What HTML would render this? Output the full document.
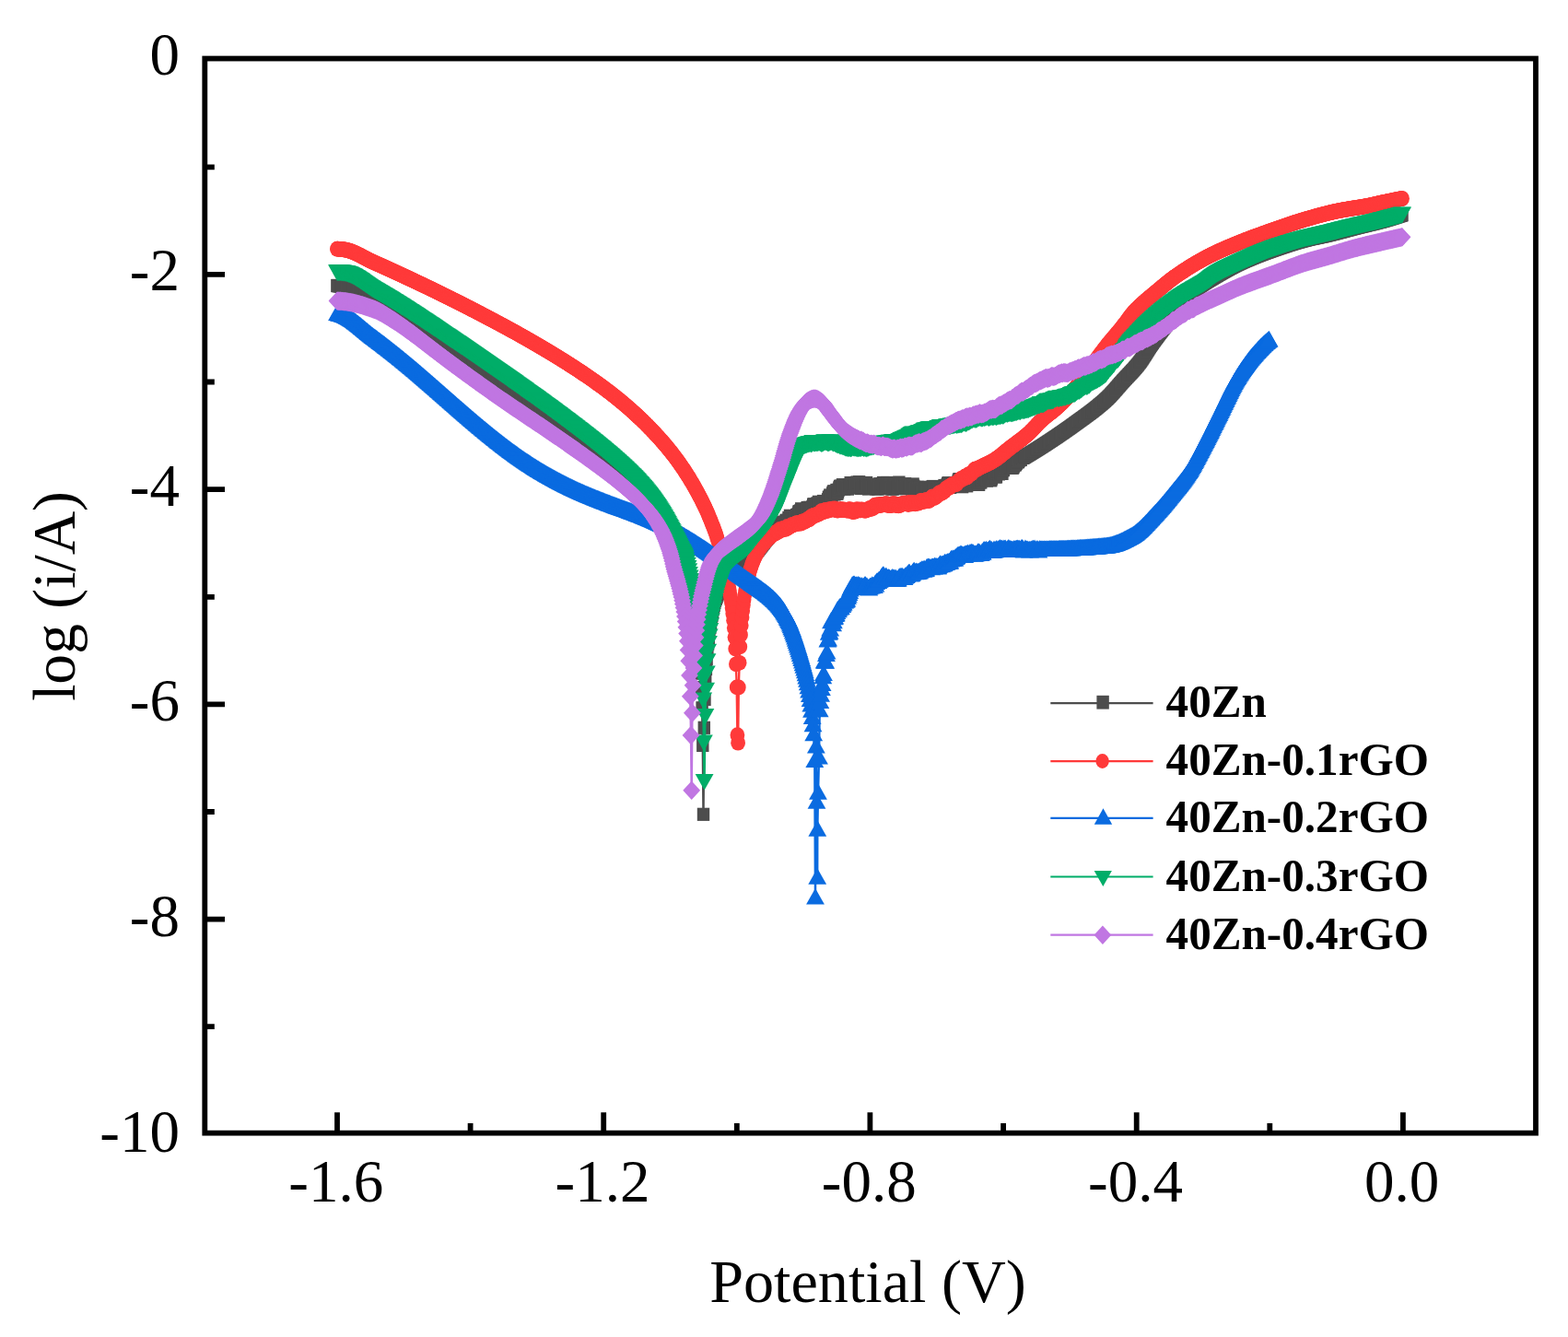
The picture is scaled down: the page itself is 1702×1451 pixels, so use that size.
<!DOCTYPE html>
<html lang="en"><head><meta charset="utf-8"><title>Polarization curves</title>
<style>html,body{margin:0;padding:0;background:#fff;}body{width:1702px;height:1451px;overflow:hidden;}svg{display:block;}text{font-family:"Liberation Serif","Times New Roman",serif;fill:#000;}</style></head><body>
<svg width="1702" height="1451" viewBox="0 0 1702 1451">
<rect width="1702" height="1451" fill="#fff"/>
<defs>
<marker id="mk" markerUnits="userSpaceOnUse" markerWidth="13.4" markerHeight="14.2" refX="6.7" refY="7.1" viewBox="0 0 13.4 14.2" orient="0" overflow="visible"><rect width="13.4" height="14.2" fill="#4d4d4d"/></marker>
<marker id="mr" markerUnits="userSpaceOnUse" markerWidth="16" markerHeight="17" refX="8" refY="8.5" viewBox="0 0 16 17" orient="0" overflow="visible"><ellipse cx="8" cy="8.5" rx="7.9" ry="8.4" fill="#ff3a3a"/></marker>
<marker id="mb" markerUnits="userSpaceOnUse" markerWidth="19.8" markerHeight="17.6" refX="9.9" refY="10.6" viewBox="0 0 19.8 17.6" orient="0" overflow="visible"><path d="M9.9 0L19.8 17.6H0Z" fill="#0a6be0"/></marker>
<marker id="mg" markerUnits="userSpaceOnUse" markerWidth="19.8" markerHeight="17.6" refX="9.9" refY="7" viewBox="0 0 19.8 17.6" orient="0" overflow="visible"><path d="M0 0H19.8L9.9 17.6Z" fill="#00ad68"/></marker>
<marker id="mp" markerUnits="userSpaceOnUse" markerWidth="18.8" markerHeight="20.4" refX="9.4" refY="10.2" viewBox="0 0 18.8 20.4" orient="0" overflow="visible"><path d="M9.4 0L18.8 10.2L9.4 20.4L0 10.2Z" fill="#c076e2"/></marker>
</defs>
<g fill="none" stroke-width="2.4" stroke-linejoin="round">
<polyline stroke="#4d4d4d" marker-start="url(#mk)" marker-mid="url(#mk)" marker-end="url(#mk)" points="366.0,310.0 366.2,310.0 366.9,310.1 367.6,310.1 368.3,310.2 369.0,310.3 369.8,310.4 370.5,310.4 371.2,310.5 371.9,310.6 372.7,310.7 373.4,310.9 374.1,311.0 374.8,311.1 375.6,311.3 376.3,311.4 377.0,311.6 377.7,311.8 378.4,312.0 379.2,312.2 379.9,312.4 380.6,312.6 381.3,312.8 382.1,313.0 382.8,313.3 383.5,313.5 384.2,313.8 384.9,314.1 385.7,314.3 386.4,314.6 387.1,314.9 387.8,315.2 388.6,315.5 389.3,315.8 390.0,316.1 390.7,316.4 391.4,316.7 392.2,317.0 392.9,317.3 393.6,317.7 394.3,318.0 395.1,318.3 395.8,318.7 396.5,319.0 397.2,319.4 397.9,319.7 398.7,320.0 399.4,320.4 400.1,320.7 400.8,321.1 401.6,321.4 402.3,321.8 403.0,322.1 403.7,322.5 404.5,322.8 405.2,323.2 405.9,323.5 406.6,323.9 407.3,324.3 408.1,324.6 408.8,325.0 409.5,325.4 410.2,325.8 411.0,326.2 411.7,326.6 412.4,327.1 413.1,327.5 413.8,327.9 414.6,328.4 415.3,328.8 416.0,329.3 416.7,329.8 417.5,330.2 418.2,330.7 418.9,331.2 419.6,331.6 420.3,332.1 421.1,332.6 421.8,333.0 422.5,333.5 423.2,334.0 424.0,334.5 424.7,334.9 425.4,335.4 426.1,335.9 426.8,336.4 427.6,336.8 428.3,337.3 429.0,337.8 429.7,338.3 430.5,338.8 431.2,339.2 431.9,339.7 432.6,340.2 433.4,340.7 434.1,341.2 434.8,341.7 435.5,342.2 436.2,342.7 437.0,343.2 437.7,343.7 438.4,344.2 439.1,344.7 439.9,345.3 440.6,345.8 441.3,346.3 442.0,346.8 442.7,347.3 443.5,347.8 444.2,348.3 444.9,348.8 445.6,349.3 446.4,349.9 447.1,350.4 447.8,350.9 448.5,351.4 449.2,351.9 450.0,352.4 450.7,353.0 451.4,353.5 452.1,354.0 452.9,354.5 453.6,355.1 454.3,355.6 455.0,356.1 455.7,356.6 456.5,357.2 457.2,357.7 457.9,358.2 458.6,358.7 459.4,359.3 460.1,359.8 460.8,360.3 461.5,360.9 462.3,361.4 463.0,361.9 463.7,362.4 464.4,363.0 465.1,363.5 465.9,364.0 466.6,364.5 467.3,365.0 468.0,365.6 468.8,366.1 469.5,366.6 470.2,367.1 470.9,367.6 471.6,368.2 472.4,368.7 473.1,369.2 473.8,369.7 474.5,370.2 475.3,370.7 476.0,371.3 476.7,371.8 477.4,372.3 478.1,372.8 478.9,373.3 479.6,373.8 480.3,374.4 481.0,374.9 481.8,375.4 482.5,375.9 483.2,376.4 483.9,376.9 484.6,377.4 485.4,378.0 486.1,378.5 486.8,379.0 487.5,379.5 488.3,380.0 489.0,380.5 489.7,381.0 490.4,381.5 491.2,382.0 491.9,382.5 492.6,383.0 493.3,383.6 494.0,384.1 494.8,384.6 495.5,385.1 496.2,385.6 496.9,386.1 497.7,386.6 498.4,387.1 499.1,387.6 499.8,388.1 500.5,388.6 501.3,389.1 502.0,389.6 502.7,390.1 503.4,390.6 504.2,391.1 504.9,391.6 505.6,392.1 506.3,392.6 507.0,393.1 507.8,393.6 508.5,394.1 509.2,394.6 509.9,395.1 510.7,395.6 511.4,396.1 512.1,396.6 512.8,397.1 513.5,397.6 514.3,398.1 515.0,398.6 515.7,399.1 516.4,399.6 517.2,400.1 517.9,400.6 518.6,401.1 519.3,401.6 520.1,402.1 520.8,402.6 521.5,403.1 522.2,403.6 522.9,404.1 523.7,404.6 524.4,405.1 525.1,405.6 525.8,406.1 526.6,406.6 527.3,407.1 528.0,407.6 528.7,408.0 529.4,408.5 530.2,409.0 530.9,409.5 531.6,410.0 532.3,410.5 533.1,411.0 533.8,411.4 534.5,411.9 535.2,412.4 535.9,412.9 536.7,413.4 537.4,413.9 538.1,414.3 538.8,414.8 539.6,415.3 540.3,415.8 541.0,416.3 541.7,416.8 542.4,417.2 543.2,417.7 543.9,418.2 544.6,418.7 545.3,419.2 546.1,419.6 546.8,420.1 547.5,420.6 548.2,421.1 549.0,421.6 549.7,422.0 550.4,422.5 551.1,423.0 551.8,423.5 552.6,424.0 553.3,424.4 554.0,424.9 554.7,425.4 555.5,425.9 556.2,426.4 556.9,426.8 557.6,427.3 558.3,427.8 559.1,428.3 559.8,428.8 560.5,429.2 561.2,429.7 562.0,430.2 562.7,430.7 563.4,431.2 564.1,431.6 564.8,432.1 565.6,432.6 566.3,433.1 567.0,433.6 567.7,434.1 568.5,434.5 569.2,435.0 569.9,435.5 570.6,436.0 571.3,436.5 572.1,436.9 572.8,437.4 573.5,437.9 574.2,438.4 575.0,438.9 575.7,439.4 576.4,439.8 577.1,440.3 577.9,440.8 578.6,441.3 579.3,441.8 580.0,442.3 580.7,442.7 581.5,443.2 582.2,443.7 582.9,444.2 583.6,444.7 584.4,445.2 585.1,445.7 585.8,446.2 586.5,446.7 587.2,447.1 588.0,447.6 588.7,448.1 589.4,448.6 590.1,449.1 590.9,449.6 591.6,450.1 592.3,450.6 593.0,451.1 593.7,451.6 594.5,452.1 595.2,452.6 595.9,453.1 596.6,453.6 597.4,454.1 598.1,454.6 598.8,455.1 599.5,455.6 600.2,456.1 601.0,456.6 601.7,457.1 602.4,457.6 603.1,458.1 603.9,458.6 604.6,459.1 605.3,459.6 606.0,460.1 606.8,460.6 607.5,461.1 608.2,461.7 608.9,462.2 609.6,462.7 610.4,463.2 611.1,463.7 611.8,464.2 612.5,464.7 613.3,465.3 614.0,465.8 614.7,466.3 615.4,466.8 616.1,467.3 616.9,467.9 617.6,468.4 618.3,468.9 619.0,469.4 619.8,470.0 620.5,470.5 621.2,471.0 621.9,471.6 622.6,472.1 623.4,472.6 624.1,473.2 624.8,473.7 625.5,474.3 626.3,474.8 627.0,475.3 627.7,475.9 628.4,476.4 629.1,477.0 629.9,477.5 630.6,478.1 631.3,478.6 632.0,479.2 632.8,479.7 633.5,480.3 634.2,480.8 634.9,481.4 635.7,481.9 636.4,482.5 637.1,483.1 637.8,483.6 638.5,484.2 639.3,484.8 640.0,485.3 640.7,485.9 641.4,486.5 642.2,487.0 642.9,487.6 643.6,488.2 644.3,488.8 645.0,489.3 645.8,489.9 646.5,490.5 647.2,491.1 647.9,491.7 648.7,492.2 649.4,492.8 650.1,493.4 650.8,494.0 651.5,494.6 652.3,495.2 653.0,495.8 653.7,496.4 654.4,497.0 655.2,497.6 655.9,498.2 656.6,498.8 657.3,499.4 658.0,500.0 658.8,500.6 659.5,501.2 660.2,501.8 660.9,502.4 661.7,503.0 662.4,503.7 663.1,504.3 663.8,504.9 664.6,505.5 665.3,506.2 666.0,506.8 666.7,507.4 667.4,508.1 668.2,508.7 668.9,509.4 669.6,510.0 670.3,510.6 671.1,511.3 671.8,512.0 672.5,512.6 673.2,513.3 673.9,513.9 674.7,514.6 675.4,515.3 676.1,515.9 676.8,516.6 677.6,517.3 678.3,518.0 679.0,518.7 679.7,519.3 680.4,520.0 681.2,520.7 681.9,521.4 682.6,522.1 683.3,522.8 684.1,523.5 684.8,524.3 685.5,525.0 686.2,525.7 686.9,526.4 687.7,527.2 688.4,527.9 689.1,528.6 689.8,529.4 690.6,530.1 691.3,530.9 692.0,531.6 692.7,532.4 693.5,533.1 694.2,533.9 694.9,534.7 695.6,535.5 696.3,536.3 697.1,537.1 697.8,537.9 698.5,538.7 699.2,539.5 700.0,540.3 700.7,541.2 701.4,542.0 702.1,542.9 702.8,543.7 703.6,544.6 704.3,545.4 705.0,546.3 705.7,547.2 706.5,548.1 707.2,549.0 707.9,550.0 708.6,550.9 709.3,551.8 710.1,552.8 710.8,553.8 711.5,554.7 712.2,555.7 713.0,556.7 713.7,557.8 714.4,558.8 715.1,559.8 715.8,560.9 716.6,562.0 717.3,563.1 718.0,564.2 718.7,565.3 719.5,566.5 720.2,567.7 720.9,568.9 721.6,570.1 722.4,571.3 723.1,572.6 723.8,573.9 724.5,575.2 725.2,576.6 726.0,578.0 726.7,579.4 727.4,580.8 728.1,582.3 728.9,583.8 729.6,585.4 730.3,587.0 731.0,588.7 731.7,590.4 732.5,592.1 733.2,593.9 733.9,595.7 734.6,597.6 735.4,599.6 736.1,601.8 736.8,604.0 737.5,606.2 738.2,608.5 739.0,610.8 739.7,613.1 740.4,615.5 741.1,617.9 741.9,620.4 742.6,622.9 743.3,625.4 744.0,628.0 744.7,630.6 745.5,633.2 746.2,635.9 746.9,638.6 747.6,641.4 748.4,644.1 749.1,646.9 749.8,649.7 750.5,652.6 751.3,655.6 752.0,658.7 752.7,661.9 753.4,665.5 754.1,669.3 754.9,673.4 755.6,677.9 756.3,682.8 757.0,688.2 757.8,694.3 758.5,701.3 759.2,709.3 759.9,718.9 760.6,730.7 761.4,746.0 762.1,768.3 762.8,808.9 763.5,883.8 764.3,789.8 765.0,758.9 765.7,739.8 766.4,726.0 767.1,715.1 767.9,706.2 768.6,698.6 769.3,692.0 770.0,686.1 770.8,680.9 771.5,676.2 772.2,671.8 772.9,667.8 773.6,664.1 774.4,660.6 775.1,657.1 775.8,654.0 776.5,651.7 777.3,649.8 778.0,647.9 778.7,646.1 779.4,644.3 780.2,642.7 780.9,641.1 781.6,639.5 782.3,638.1 783.0,636.6 783.8,635.3 784.5,634.0 785.2,632.7 785.9,631.5 786.7,630.4 787.4,629.3 788.1,628.2 788.8,627.2 789.5,626.2 790.3,625.3 791.0,624.4 791.7,623.5 792.4,622.7 793.2,621.9 793.9,621.1 794.6,620.4 795.3,619.7 796.0,619.0 796.8,618.4 797.5,617.8 798.2,617.3 798.9,616.8 799.7,616.3 800.4,615.8 801.1,615.3 801.8,614.9 802.5,614.4 803.3,613.9 804.0,613.5 804.7,613.0 805.4,612.4 806.2,611.9 806.9,611.3 807.6,610.7 808.3,610.2 809.1,609.6 809.8,609.0 810.5,608.4 811.2,607.9 811.9,607.3 812.7,606.7 813.4,606.1 814.1,605.5 814.8,604.8 815.6,604.2 816.3,603.6 817.0,602.9 817.7,602.2 818.4,601.5 819.2,600.8 819.9,600.1 820.6,599.4 821.3,598.6 822.1,597.8 822.8,596.9 823.5,596.0 824.2,595.1 824.9,594.2 825.7,593.3 826.4,592.3 827.1,591.4 827.8,590.4 828.6,589.5 829.3,588.6 830.0,587.6 830.7,586.7 831.4,585.8 832.2,585.0 832.9,584.1 833.6,583.3 834.3,582.5 835.1,580.1 835.8,577.7 836.5,577.8 837.2,576.0 838.0,574.2 838.7,574.8 839.4,577.9 840.1,578.3 840.8,577.9 841.6,574.1 842.3,573.8 843.0,571.7 843.7,569.7 844.5,568.1 845.2,567.6 845.9,571.3 846.6,572.3 847.3,572.4 848.1,572.2 848.8,568.2 849.5,566.6 850.2,567.5 851.0,568.3 851.7,569.2 852.4,569.5 853.1,564.8 853.8,565.2 854.6,565.6 855.3,564.6 856.0,562.0 856.7,562.2 857.5,559.8 858.2,563.4 858.9,564.6 859.6,563.1 860.3,560.7 861.1,562.9 861.8,561.8 862.5,562.9 863.2,563.1 864.0,560.9 864.7,559.1 865.4,559.1 866.1,557.9 866.9,555.6 867.6,555.0 868.3,557.6 869.0,554.2 869.7,552.3 870.5,554.6 871.2,553.5 871.9,554.4 872.6,554.2 873.4,553.2 874.1,556.5 874.8,553.2 875.5,552.7 876.2,551.1 877.0,552.7 877.7,551.2 878.4,550.8 879.1,552.8 879.9,551.2 880.6,551.6 881.3,553.7 882.0,549.9 882.7,547.6 883.5,547.3 884.2,550.2 884.9,550.6 885.6,548.4 886.4,547.7 887.1,546.3 887.8,547.1 888.5,544.8 889.2,547.4 890.0,549.7 890.7,551.0 891.4,550.1 892.1,550.8 892.9,545.4 893.6,544.0 894.3,547.1 895.0,547.2 895.8,544.9 896.5,546.6 897.2,545.3 897.9,545.5 898.6,542.2 899.4,539.7 900.1,539.7 900.8,537.6 901.5,537.8 902.3,541.0 903.0,538.7 903.7,535.4 904.4,533.7 905.1,533.3 905.9,536.5 906.6,535.3 907.3,534.0 908.0,531.9 908.8,535.8 909.5,534.1 910.2,531.7 910.9,529.4 911.6,527.9 912.4,527.6 913.1,530.2 913.8,528.1 914.5,526.2 915.3,527.7 916.0,526.8 916.7,530.6 917.4,527.2 918.1,527.7 918.9,529.4 919.6,527.9 920.3,530.6 921.0,528.9 921.8,526.6 922.5,526.4 923.2,524.1 923.9,525.2 924.7,524.7 925.4,528.2 926.1,529.6 926.8,528.3 927.5,524.9 928.3,524.5 929.0,524.2 929.7,523.8 930.4,523.7 931.2,527.5 931.9,525.0 932.6,523.2 933.3,527.5 934.0,527.5 934.8,530.0 935.5,527.8 936.2,529.6 936.9,529.0 937.7,529.5 938.4,529.5 939.1,528.0 939.8,524.9 940.5,524.0 941.3,527.5 942.0,529.4 942.7,530.5 943.4,527.5 944.2,527.9 944.9,529.0 945.6,528.6 946.3,529.4 947.0,528.1 947.8,528.2 948.5,528.5 949.2,526.1 949.9,528.8 950.7,530.4 951.4,526.0 952.1,529.1 952.8,530.6 953.6,529.6 954.3,525.4 955.0,528.4 955.7,525.4 956.4,528.8 957.2,528.8 957.9,525.2 958.6,524.0 959.3,526.2 960.1,527.0 960.8,528.4 961.5,530.2 962.2,526.9 962.9,524.0 963.7,528.0 964.4,524.7 965.1,528.1 965.8,525.4 966.6,528.1 967.3,529.3 968.0,530.5 968.7,529.2 969.4,530.5 970.2,527.2 970.9,528.3 971.6,526.9 972.3,529.5 973.1,530.1 973.8,528.6 974.5,528.3 975.2,525.1 975.9,523.6 976.7,526.2 977.4,526.9 978.1,529.4 978.8,529.2 979.6,526.3 980.3,526.2 981.0,528.6 981.7,528.4 982.5,525.2 983.2,528.6 983.9,530.2 984.6,526.6 985.3,527.6 986.1,527.1 986.8,529.3 987.5,527.6 988.2,526.4 989.0,527.2 989.7,530.6 990.4,527.1 991.1,525.5 991.8,527.8 992.6,530.5 993.3,529.9 994.0,529.2 994.7,531.6 995.5,532.5 996.2,528.9 996.9,532.1 997.6,529.8 998.3,529.4 999.1,532.4 999.8,531.6 1000.5,533.3 1001.2,530.4 1002.0,533.2 1002.7,530.4 1003.4,528.8 1004.1,530.1 1004.8,529.7 1005.6,530.8 1006.3,533.4 1007.0,533.5 1007.7,529.4 1008.5,529.1 1009.2,530.3 1009.9,530.5 1010.6,532.0 1011.4,531.3 1012.1,528.4 1012.8,528.0 1013.5,531.3 1014.2,530.0 1015.0,531.7 1015.7,533.8 1016.4,532.7 1017.1,532.4 1017.9,531.7 1018.6,529.6 1019.3,532.1 1020.0,530.6 1020.7,532.4 1021.5,529.7 1022.2,531.6 1022.9,532.0 1023.6,531.1 1024.4,529.6 1025.1,527.0 1025.8,529.4 1026.5,528.1 1027.2,529.2 1028.0,526.5 1028.7,524.8 1029.4,524.2 1030.1,527.8 1030.9,525.8 1031.6,528.9 1032.3,527.3 1033.0,527.6 1033.7,526.3 1034.5,527.1 1035.2,524.3 1035.9,524.6 1036.6,527.8 1037.4,524.8 1038.1,526.0 1038.8,524.6 1039.5,523.6 1040.3,521.4 1041.0,520.1 1041.7,524.9 1042.4,526.5 1043.1,527.1 1043.9,527.3 1044.6,528.2 1045.3,523.8 1046.0,524.1 1046.8,523.7 1047.5,523.9 1048.2,526.1 1048.9,526.1 1049.6,527.3 1050.4,522.8 1051.1,523.8 1051.8,524.3 1052.5,525.0 1053.3,524.6 1054.0,525.7 1054.7,523.0 1055.4,525.4 1056.1,523.5 1056.9,523.7 1057.6,525.5 1058.3,525.2 1059.0,522.8 1059.8,521.0 1060.5,520.7 1061.2,522.2 1061.9,525.1 1062.6,525.9 1063.4,523.3 1064.1,521.8 1064.8,523.5 1065.5,521.0 1066.3,520.4 1067.0,517.7 1067.7,517.1 1068.4,518.8 1069.2,520.5 1069.9,520.6 1070.6,519.1 1071.3,521.6 1072.0,520.8 1072.8,517.4 1073.5,515.0 1074.2,519.0 1074.9,521.0 1075.7,521.3 1076.4,519.5 1077.1,516.6 1077.8,513.7 1078.5,513.1 1079.3,512.4 1080.0,516.1 1080.7,517.5 1081.4,517.4 1082.2,513.4 1082.9,511.7 1083.6,511.0 1084.3,514.4 1085.0,511.1 1085.8,513.0 1086.5,513.1 1087.2,512.1 1087.9,513.9 1088.7,510.4 1089.4,509.9 1090.1,507.3 1090.8,505.4 1091.5,503.9 1092.3,504.5 1093.0,503.5 1093.7,502.4 1094.4,507.2 1095.2,505.2 1095.9,507.5 1096.6,507.3 1097.3,507.2 1098.1,506.5 1098.8,507.7 1099.5,507.6 1100.2,506.4 1100.9,504.7 1101.7,504.4 1102.4,504.2 1103.1,502.9 1103.8,501.7 1104.6,498.8 1105.3,501.3 1106.0,500.1 1106.7,496.9 1107.4,495.6 1108.2,499.0 1108.9,496.8 1109.6,496.3 1110.3,497.0 1111.1,496.6 1111.8,496.2 1112.5,495.7 1113.2,495.3 1113.9,494.8 1114.7,494.4 1115.4,494.0 1116.1,493.5 1116.8,493.1 1117.6,492.7 1118.3,492.2 1119.0,491.8 1119.7,491.3 1120.4,490.9 1121.2,490.4 1121.9,490.0 1122.6,489.5 1123.3,489.1 1124.1,488.6 1124.8,488.2 1125.5,487.7 1126.2,487.3 1127.0,486.8 1127.7,486.4 1128.4,485.9 1129.1,485.4 1129.8,485.0 1130.6,484.5 1131.3,484.1 1132.0,483.6 1132.7,483.1 1133.5,482.7 1134.2,482.2 1134.9,481.7 1135.6,481.3 1136.3,480.8 1137.1,480.3 1137.8,479.8 1138.5,479.4 1139.2,478.9 1140.0,478.4 1140.7,477.9 1141.4,477.5 1142.1,477.0 1142.8,476.5 1143.6,476.0 1144.3,475.5 1145.0,475.0 1145.7,474.6 1146.5,474.1 1147.2,473.6 1147.9,473.1 1148.6,472.6 1149.3,472.1 1150.1,471.6 1150.8,471.1 1151.5,470.6 1152.2,470.1 1153.0,469.6 1153.7,469.2 1154.4,468.7 1155.1,468.1 1155.9,467.6 1156.6,467.1 1157.3,466.6 1158.0,466.1 1158.7,465.6 1159.5,465.1 1160.2,464.6 1160.9,464.1 1161.6,463.6 1162.4,463.1 1163.1,462.5 1163.8,462.0 1164.5,461.5 1165.2,461.0 1166.0,460.5 1166.7,459.9 1167.4,459.4 1168.1,458.9 1168.9,458.4 1169.6,457.8 1170.3,457.3 1171.0,456.8 1171.7,456.3 1172.5,455.8 1173.2,455.2 1173.9,454.7 1174.6,454.2 1175.4,453.7 1176.1,453.2 1176.8,452.6 1177.5,452.1 1178.2,451.6 1179.0,451.0 1179.7,450.5 1180.4,450.0 1181.1,449.4 1181.9,448.9 1182.6,448.4 1183.3,447.8 1184.0,447.3 1184.8,446.7 1185.5,446.2 1186.2,445.6 1186.9,445.1 1187.6,444.5 1188.4,443.9 1189.1,443.4 1189.8,442.8 1190.5,442.2 1191.3,441.6 1192.0,441.0 1192.7,440.4 1193.4,439.8 1194.1,439.2 1194.9,438.6 1195.6,438.0 1196.3,437.4 1197.0,436.8 1197.8,436.1 1198.5,435.5 1199.2,434.8 1199.9,434.2 1200.6,433.5 1201.4,432.8 1202.1,432.2 1202.8,431.5 1203.5,430.7 1204.3,430.0 1205.0,429.3 1205.7,428.5 1206.4,427.7 1207.1,426.9 1207.9,426.1 1208.6,425.3 1209.3,424.5 1210.0,423.7 1210.8,422.9 1211.5,422.0 1212.2,421.2 1212.9,420.4 1213.7,419.5 1214.4,418.7 1215.1,417.9 1215.8,417.1 1216.5,416.2 1217.3,415.4 1218.0,414.6 1218.7,413.8 1219.4,413.0 1220.2,412.2 1220.9,411.4 1221.6,410.7 1222.3,409.9 1223.0,409.1 1223.8,408.4 1224.5,407.6 1225.2,406.8 1225.9,406.1 1226.7,405.3 1227.4,404.5 1228.1,403.8 1228.8,403.0 1229.5,402.2 1230.3,401.4 1231.0,400.6 1231.7,399.8 1232.4,398.9 1233.2,398.1 1233.9,397.2 1234.6,396.4 1235.3,395.5 1236.0,394.6 1236.8,393.6 1237.5,392.7 1238.2,391.7 1238.9,390.7 1239.7,389.6 1240.4,388.5 1241.1,387.4 1241.8,386.3 1242.6,385.2 1243.3,384.1 1244.0,382.9 1244.7,381.8 1245.4,380.6 1246.2,379.5 1246.9,378.3 1247.6,377.2 1248.3,376.1 1249.1,375.0 1249.8,373.9 1250.5,372.9 1251.2,371.9 1251.9,370.8 1252.7,369.8 1253.4,368.8 1254.1,367.8 1254.8,366.9 1255.6,365.9 1256.3,364.9 1257.0,363.9 1257.7,363.0 1258.4,362.0 1259.2,361.0 1259.9,360.1 1260.6,359.1 1261.3,358.2 1262.1,357.2 1262.8,356.3 1263.5,355.3 1264.2,354.4 1264.9,353.4 1265.7,352.5 1266.4,351.5 1267.1,350.6 1267.8,349.7 1268.6,348.8 1269.3,347.8 1270.0,346.9 1270.7,345.9 1271.5,344.9 1272.2,343.9 1272.9,342.8 1273.6,341.7 1274.3,340.6 1275.1,339.4 1275.8,338.2 1276.5,337.0 1277.2,335.8 1278.0,334.6 1278.7,333.4 1279.4,332.3 1280.1,331.1 1280.8,330.0 1281.6,328.9 1282.3,327.9 1283.0,326.9 1283.7,326.0 1284.5,325.1 1285.2,324.3 1285.9,323.5 1286.6,322.8 1287.3,322.1 1288.1,321.4 1288.8,320.7 1289.5,320.1 1290.2,319.5 1291.0,318.9 1291.7,318.3 1292.4,317.7 1293.1,317.1 1293.8,316.5 1294.6,316.0 1295.3,315.5 1296.0,314.9 1296.7,314.4 1297.5,313.9 1298.2,313.3 1298.9,312.8 1299.6,312.3 1300.4,311.8 1301.1,311.2 1301.8,310.7 1302.5,310.2 1303.2,309.8 1304.0,309.3 1304.7,308.8 1305.4,308.3 1306.1,307.8 1306.9,307.4 1307.6,306.9 1308.3,306.5 1309.0,306.0 1309.7,305.6 1310.5,305.1 1311.2,304.7 1311.9,304.2 1312.6,303.8 1313.4,303.4 1314.1,302.9 1314.8,302.5 1315.5,302.1 1316.2,301.7 1317.0,301.2 1317.7,300.8 1318.4,300.4 1319.1,299.9 1319.9,299.5 1320.6,299.1 1321.3,298.7 1322.0,298.2 1322.7,297.8 1323.5,297.4 1324.2,297.0 1324.9,296.6 1325.6,296.1 1326.4,295.7 1327.1,295.3 1327.8,294.9 1328.5,294.5 1329.3,294.1 1330.0,293.7 1330.7,293.3 1331.4,292.9 1332.1,292.5 1332.9,292.1 1333.6,291.7 1334.3,291.3 1335.0,290.9 1335.8,290.5 1336.5,290.2 1337.2,289.8 1337.9,289.4 1338.6,289.0 1339.4,288.7 1340.1,288.3 1340.8,287.9 1341.5,287.6 1342.3,287.2 1343.0,286.9 1343.7,286.5 1344.4,286.2 1345.1,285.8 1345.9,285.5 1346.6,285.2 1347.3,284.9 1348.0,284.5 1348.8,284.2 1349.5,283.9 1350.2,283.6 1350.9,283.2 1351.6,282.9 1352.4,282.6 1353.1,282.3 1353.8,282.0 1354.5,281.7 1355.3,281.4 1356.0,281.1 1356.7,280.8 1357.4,280.5 1358.2,280.2 1358.9,279.9 1359.6,279.6 1360.3,279.3 1361.0,279.0 1361.8,278.7 1362.5,278.4 1363.2,278.1 1363.9,277.9 1364.7,277.6 1365.4,277.3 1366.1,277.0 1366.8,276.7 1367.5,276.5 1368.3,276.2 1369.0,275.9 1369.7,275.6 1370.4,275.4 1371.2,275.1 1371.9,274.8 1372.6,274.6 1373.3,274.3 1374.0,274.0 1374.8,273.8 1375.5,273.5 1376.2,273.3 1376.9,273.0 1377.7,272.7 1378.4,272.5 1379.1,272.2 1379.8,272.0 1380.5,271.7 1381.3,271.5 1382.0,271.2 1382.7,271.0 1383.4,270.7 1384.2,270.5 1384.9,270.2 1385.6,270.0 1386.3,269.7 1387.1,269.5 1387.8,269.2 1388.5,269.0 1389.2,268.7 1389.9,268.5 1390.7,268.3 1391.4,268.0 1392.1,267.8 1392.8,267.5 1393.6,267.3 1394.3,267.1 1395.0,266.8 1395.7,266.6 1396.4,266.4 1397.2,266.1 1397.9,265.9 1398.6,265.7 1399.3,265.4 1400.1,265.2 1400.8,265.0 1401.5,264.8 1402.2,264.5 1402.9,264.3 1403.7,264.1 1404.4,263.9 1405.1,263.7 1405.8,263.4 1406.6,263.2 1407.3,263.0 1408.0,262.8 1408.7,262.6 1409.4,262.4 1410.2,262.2 1410.9,262.0 1411.6,261.8 1412.3,261.6 1413.1,261.4 1413.8,261.2 1414.5,261.0 1415.2,260.8 1416.0,260.6 1416.7,260.5 1417.4,260.3 1418.1,260.1 1418.8,259.9 1419.6,259.7 1420.3,259.6 1421.0,259.4 1421.7,259.2 1422.5,259.1 1423.2,258.9 1423.9,258.8 1424.6,258.6 1425.3,258.5 1426.1,258.3 1426.8,258.2 1427.5,258.0 1428.2,257.9 1429.0,257.7 1429.7,257.6 1430.4,257.4 1431.1,257.3 1431.8,257.1 1432.6,256.9 1433.3,256.8 1434.0,256.6 1434.7,256.5 1435.5,256.3 1436.2,256.2 1436.9,256.0 1437.6,255.9 1438.3,255.7 1439.1,255.5 1439.8,255.3 1440.5,255.2 1441.2,255.0 1442.0,254.8 1442.7,254.6 1443.4,254.5 1444.1,254.3 1444.9,254.1 1445.6,253.9 1446.3,253.7 1447.0,253.6 1447.7,253.4 1448.5,253.2 1449.2,253.0 1449.9,252.8 1450.6,252.6 1451.4,252.4 1452.1,252.2 1452.8,252.0 1453.5,251.9 1454.2,251.7 1455.0,251.5 1455.7,251.3 1456.4,251.1 1457.1,250.9 1457.9,250.7 1458.6,250.5 1459.3,250.3 1460.0,250.1 1460.7,249.9 1461.5,249.7 1462.2,249.5 1462.9,249.3 1463.6,249.2 1464.4,249.0 1465.1,248.8 1465.8,248.6 1466.5,248.4 1467.2,248.2 1468.0,248.0 1468.7,247.8 1469.4,247.6 1470.1,247.5 1470.9,247.3 1471.6,247.1 1472.3,246.9 1473.0,246.7 1473.8,246.6 1474.5,246.4 1475.2,246.2 1475.9,246.0 1476.6,245.9 1477.4,245.7 1478.1,245.5 1478.8,245.3 1479.5,245.2 1480.3,245.0 1481.0,244.8 1481.7,244.6 1482.4,244.5 1483.1,244.3 1483.9,244.1 1484.6,243.9 1485.3,243.8 1486.0,243.6 1486.8,243.4 1487.5,243.2 1488.2,243.1 1488.9,242.9 1489.6,242.7 1490.4,242.5 1491.1,242.3 1491.8,242.2 1492.5,242.0 1493.3,241.8 1494.0,241.6 1494.7,241.4 1495.4,241.2 1496.1,241.0 1496.9,240.9 1497.6,240.7 1498.3,240.5 1499.0,240.3 1499.8,240.1 1500.5,239.9 1501.2,239.7 1501.9,239.5 1502.7,239.3 1503.4,239.0 1504.1,238.8 1504.8,238.6 1505.5,238.4 1506.3,238.2 1507.0,238.0 1507.7,237.8 1508.4,237.5 1509.2,237.3 1509.9,237.1 1510.6,236.9 1511.3,236.7 1512.0,236.4 1512.8,236.2 1513.5,236.0 1514.2,235.7 1514.9,235.5 1515.7,235.3 1516.4,235.0 1517.1,234.8 1517.8,234.6 1518.5,234.3 1519.3,234.1 1520.0,233.9 1520.7,233.6 1521.4,233.4 1522.0,233.2"/>
<polyline stroke="#ff3a3a" marker-start="url(#mr)" marker-mid="url(#mr)" marker-end="url(#mr)" points="366.0,270.2 366.2,270.2 366.9,270.2 367.6,270.3 368.3,270.3 369.1,270.4 369.8,270.4 370.5,270.5 371.2,270.6 372.0,270.7 372.7,270.8 373.4,270.9 374.1,271.0 374.8,271.1 375.6,271.2 376.3,271.4 377.0,271.6 377.7,271.8 378.5,272.0 379.2,272.2 379.9,272.4 380.6,272.7 381.3,272.9 382.1,273.2 382.8,273.5 383.5,273.8 384.2,274.1 385.0,274.4 385.7,274.7 386.4,275.1 387.1,275.4 387.8,275.7 388.6,276.1 389.3,276.4 390.0,276.8 390.7,277.2 391.5,277.5 392.2,277.9 392.9,278.3 393.6,278.7 394.3,279.1 395.1,279.4 395.8,279.8 396.5,280.2 397.2,280.6 398.0,281.0 398.7,281.3 399.4,281.7 400.1,282.1 400.9,282.5 401.6,282.8 402.3,283.2 403.0,283.5 403.7,283.9 404.5,284.2 405.2,284.5 405.9,284.9 406.6,285.2 407.4,285.5 408.1,285.8 408.8,286.1 409.5,286.5 410.2,286.8 411.0,287.1 411.7,287.4 412.4,287.7 413.1,288.1 413.9,288.4 414.6,288.7 415.3,289.0 416.0,289.4 416.7,289.7 417.5,290.0 418.2,290.3 418.9,290.7 419.6,291.0 420.4,291.3 421.1,291.7 421.8,292.0 422.5,292.3 423.2,292.6 424.0,293.0 424.7,293.3 425.4,293.6 426.1,294.0 426.9,294.3 427.6,294.6 428.3,295.0 429.0,295.3 429.8,295.6 430.5,296.0 431.2,296.3 431.9,296.6 432.6,297.0 433.4,297.3 434.1,297.6 434.8,298.0 435.5,298.3 436.3,298.6 437.0,299.0 437.7,299.3 438.4,299.6 439.1,300.0 439.9,300.3 440.6,300.7 441.3,301.0 442.0,301.3 442.8,301.7 443.5,302.0 444.2,302.4 444.9,302.7 445.6,303.0 446.4,303.4 447.1,303.7 447.8,304.1 448.5,304.4 449.3,304.7 450.0,305.1 450.7,305.4 451.4,305.8 452.1,306.1 452.9,306.4 453.6,306.8 454.3,307.1 455.0,307.5 455.8,307.8 456.5,308.1 457.2,308.5 457.9,308.8 458.7,309.2 459.4,309.5 460.1,309.9 460.8,310.2 461.5,310.6 462.3,310.9 463.0,311.3 463.7,311.6 464.4,311.9 465.2,312.3 465.9,312.6 466.6,313.0 467.3,313.3 468.0,313.7 468.8,314.0 469.5,314.4 470.2,314.7 470.9,315.1 471.7,315.4 472.4,315.8 473.1,316.1 473.8,316.5 474.5,316.9 475.3,317.2 476.0,317.6 476.7,317.9 477.4,318.3 478.2,318.6 478.9,319.0 479.6,319.3 480.3,319.7 481.0,320.1 481.8,320.4 482.5,320.8 483.2,321.1 483.9,321.5 484.7,321.8 485.4,322.2 486.1,322.6 486.8,322.9 487.6,323.3 488.3,323.6 489.0,324.0 489.7,324.3 490.4,324.7 491.2,325.1 491.9,325.4 492.6,325.8 493.3,326.1 494.1,326.5 494.8,326.9 495.5,327.2 496.2,327.6 496.9,327.9 497.7,328.3 498.4,328.7 499.1,329.0 499.8,329.4 500.6,329.7 501.3,330.1 502.0,330.5 502.7,330.8 503.4,331.2 504.2,331.6 504.9,331.9 505.6,332.3 506.3,332.7 507.1,333.0 507.8,333.4 508.5,333.8 509.2,334.2 509.9,334.5 510.7,334.9 511.4,335.3 512.1,335.6 512.8,336.0 513.6,336.4 514.3,336.8 515.0,337.1 515.7,337.5 516.5,337.9 517.2,338.3 517.9,338.7 518.6,339.0 519.3,339.4 520.1,339.8 520.8,340.2 521.5,340.5 522.2,340.9 523.0,341.3 523.7,341.7 524.4,342.1 525.1,342.4 525.8,342.8 526.6,343.2 527.3,343.6 528.0,344.0 528.7,344.3 529.5,344.7 530.2,345.1 530.9,345.5 531.6,345.9 532.3,346.2 533.1,346.6 533.8,347.0 534.5,347.4 535.2,347.8 536.0,348.1 536.7,348.5 537.4,348.9 538.1,349.3 538.8,349.7 539.6,350.1 540.3,350.4 541.0,350.8 541.7,351.2 542.5,351.6 543.2,352.0 543.9,352.4 544.6,352.8 545.4,353.2 546.1,353.5 546.8,353.9 547.5,354.3 548.2,354.7 549.0,355.1 549.7,355.5 550.4,355.9 551.1,356.3 551.9,356.7 552.6,357.1 553.3,357.5 554.0,357.9 554.7,358.3 555.5,358.7 556.2,359.0 556.9,359.4 557.6,359.8 558.4,360.2 559.1,360.6 559.8,361.0 560.5,361.4 561.2,361.8 562.0,362.2 562.7,362.6 563.4,363.1 564.1,363.5 564.9,363.9 565.6,364.3 566.3,364.7 567.0,365.1 567.7,365.5 568.5,365.9 569.2,366.3 569.9,366.7 570.6,367.1 571.4,367.5 572.1,367.9 572.8,368.4 573.5,368.8 574.3,369.2 575.0,369.6 575.7,370.0 576.4,370.4 577.1,370.8 577.9,371.3 578.6,371.7 579.3,372.1 580.0,372.5 580.8,372.9 581.5,373.4 582.2,373.8 582.9,374.2 583.6,374.6 584.4,375.0 585.1,375.5 585.8,375.9 586.5,376.3 587.3,376.7 588.0,377.2 588.7,377.6 589.4,378.0 590.1,378.4 590.9,378.9 591.6,379.3 592.3,379.7 593.0,380.2 593.8,380.6 594.5,381.0 595.2,381.4 595.9,381.9 596.6,382.3 597.4,382.7 598.1,383.2 598.8,383.6 599.5,384.1 600.3,384.5 601.0,384.9 601.7,385.4 602.4,385.8 603.2,386.3 603.9,386.7 604.6,387.1 605.3,387.6 606.0,388.0 606.8,388.5 607.5,388.9 608.2,389.4 608.9,389.8 609.7,390.3 610.4,390.7 611.1,391.2 611.8,391.6 612.5,392.1 613.3,392.5 614.0,393.0 614.7,393.4 615.4,393.9 616.2,394.4 616.9,394.8 617.6,395.3 618.3,395.7 619.0,396.2 619.8,396.7 620.5,397.1 621.2,397.6 621.9,398.1 622.7,398.5 623.4,399.0 624.1,399.5 624.8,399.9 625.5,400.4 626.3,400.9 627.0,401.4 627.7,401.8 628.4,402.3 629.2,402.8 629.9,403.3 630.6,403.7 631.3,404.2 632.1,404.7 632.8,405.2 633.5,405.7 634.2,406.2 634.9,406.6 635.7,407.1 636.4,407.6 637.1,408.1 637.8,408.6 638.6,409.1 639.3,409.6 640.0,410.1 640.7,410.6 641.4,411.1 642.2,411.6 642.9,412.1 643.6,412.6 644.3,413.1 645.1,413.6 645.8,414.1 646.5,414.7 647.2,415.2 647.9,415.7 648.7,416.2 649.4,416.7 650.1,417.2 650.8,417.8 651.6,418.3 652.3,418.8 653.0,419.3 653.7,419.9 654.4,420.4 655.2,420.9 655.9,421.5 656.6,422.0 657.3,422.6 658.1,423.1 658.8,423.6 659.5,424.2 660.2,424.7 661.0,425.3 661.7,425.8 662.4,426.4 663.1,426.9 663.8,427.5 664.6,428.1 665.3,428.6 666.0,429.2 666.7,429.8 667.5,430.4 668.2,430.9 668.9,431.5 669.6,432.1 670.3,432.7 671.1,433.3 671.8,433.8 672.5,434.4 673.2,435.0 674.0,435.6 674.7,436.2 675.4,436.8 676.1,437.4 676.8,438.0 677.6,438.7 678.3,439.3 679.0,439.9 679.7,440.5 680.5,441.1 681.2,441.8 681.9,442.4 682.6,443.0 683.3,443.6 684.1,444.3 684.8,444.9 685.5,445.6 686.2,446.2 687.0,446.9 687.7,447.5 688.4,448.2 689.1,448.8 689.9,449.5 690.6,450.2 691.3,450.8 692.0,451.5 692.7,452.2 693.5,452.9 694.2,453.5 694.9,454.2 695.6,454.9 696.4,455.6 697.1,456.3 697.8,457.0 698.5,457.7 699.2,458.4 700.0,459.1 700.7,459.8 701.4,460.6 702.1,461.3 702.9,462.0 703.6,462.7 704.3,463.5 705.0,464.2 705.7,464.9 706.5,465.7 707.2,466.4 707.9,467.2 708.6,467.9 709.4,468.7 710.1,469.5 710.8,470.2 711.5,471.0 712.2,471.8 713.0,472.6 713.7,473.4 714.4,474.1 715.1,474.9 715.9,475.8 716.6,476.6 717.3,477.4 718.0,478.2 718.8,479.0 719.5,479.8 720.2,480.7 720.9,481.5 721.6,482.4 722.4,483.2 723.1,484.1 723.8,485.0 724.5,485.8 725.3,486.7 726.0,487.6 726.7,488.5 727.4,489.4 728.1,490.3 728.9,491.2 729.6,492.1 730.3,493.1 731.0,494.0 731.8,494.9 732.5,495.9 733.2,496.9 733.9,497.8 734.6,498.8 735.4,499.8 736.1,500.8 736.8,501.8 737.5,502.8 738.3,503.8 739.0,504.9 739.7,505.9 740.4,507.0 741.1,508.0 741.9,509.1 742.6,510.2 743.3,511.3 744.0,512.4 744.8,513.5 745.5,514.7 746.2,515.8 746.9,517.0 747.7,518.1 748.4,519.3 749.1,520.5 749.8,521.7 750.5,522.9 751.3,524.1 752.0,525.3 752.7,526.6 753.4,527.8 754.2,529.1 754.9,530.4 755.6,531.7 756.3,533.0 757.0,534.3 757.8,535.7 758.5,537.0 759.2,538.4 759.9,539.7 760.7,541.1 761.4,542.5 762.1,544.0 762.8,545.4 763.5,546.9 764.3,548.4 765.0,549.9 765.7,551.4 766.4,553.0 767.2,554.6 767.9,556.3 768.6,558.0 769.3,559.7 770.0,561.4 770.8,563.2 771.5,564.9 772.2,566.7 772.9,568.6 773.7,570.4 774.4,572.3 775.1,574.2 775.8,576.2 776.6,578.2 777.3,580.3 778.0,582.5 778.7,584.8 779.4,587.1 780.2,589.4 780.9,591.8 781.6,594.0 782.3,596.5 783.1,599.3 783.8,602.2 784.5,605.3 785.2,608.5 785.9,611.8 786.7,615.3 787.4,618.8 788.1,622.3 788.8,625.8 789.6,629.4 790.3,632.9 791.0,636.5 791.7,640.3 792.4,644.5 793.2,649.1 793.9,654.1 794.6,659.7 795.3,666.0 796.1,673.2 796.8,681.6 797.5,691.6 798.2,704.1 798.9,720.8 799.7,745.9 800.4,797.7 801.1,806.2 801.8,746.0 802.6,719.3 803.3,701.9 804.0,689.0 804.7,678.7 805.5,670.1 806.2,662.8 806.9,656.4 807.6,650.8 808.3,645.6 809.1,640.8 809.8,636.8 810.5,633.4 811.2,630.1 812.0,627.1 812.7,624.2 813.4,621.5 814.1,619.0 814.8,616.6 815.6,614.4 816.3,612.3 817.0,610.4 817.7,608.6 818.5,606.9 819.2,605.3 819.9,603.7 820.6,602.3 821.3,600.9 822.1,599.5 822.8,598.3 823.5,597.1 824.2,596.0 825.0,594.9 825.7,593.9 826.4,593.0 827.1,592.0 827.8,591.1 828.6,590.3 829.3,589.4 830.0,588.6 830.7,587.7 831.5,586.9 832.2,586.2 832.9,585.4 833.6,584.7 834.4,584.0 835.1,583.3 835.8,582.7 836.5,582.0 837.2,581.4 838.0,580.8 838.7,580.3 839.4,579.8 840.1,578.5 840.9,579.0 841.6,579.0 842.3,577.8 843.0,577.4 843.7,577.0 844.5,577.0 845.2,577.1 845.9,575.6 846.6,574.5 847.4,575.3 848.1,574.9 848.8,575.2 849.5,573.7 850.2,573.6 851.0,574.0 851.7,573.1 852.4,574.0 853.1,574.3 853.9,572.6 854.6,571.5 855.3,571.8 856.0,572.6 856.7,571.9 857.5,571.1 858.2,570.9 858.9,569.9 859.6,569.6 860.4,569.7 861.1,569.8 861.8,569.2 862.5,568.8 863.3,568.4 864.0,568.5 864.7,568.1 865.4,567.3 866.1,568.3 866.9,568.2 867.6,568.1 868.3,567.1 869.0,567.9 869.8,568.0 870.5,566.5 871.2,565.8 871.9,566.0 872.6,566.0 873.4,566.3 874.1,565.3 874.8,565.3 875.5,564.9 876.3,563.7 877.0,563.5 877.7,563.7 878.4,563.7 879.1,562.8 879.9,562.3 880.6,560.7 881.3,560.1 882.0,560.7 882.8,560.1 883.5,559.2 884.2,559.2 884.9,559.4 885.6,559.4 886.4,558.6 887.1,558.2 887.8,557.9 888.5,558.1 889.3,557.6 890.0,556.9 890.7,556.5 891.4,555.2 892.2,554.3 892.9,555.0 893.6,555.8 894.3,555.4 895.0,554.6 895.8,553.6 896.5,553.5 897.2,554.4 897.9,554.3 898.7,553.8 899.4,554.0 900.1,552.9 900.8,552.7 901.5,553.4 902.3,553.1 903.0,552.7 903.7,552.1 904.4,552.3 905.2,553.2 905.9,551.9 906.6,552.7 907.3,553.3 908.0,553.8 908.8,553.9 909.5,554.1 910.2,553.6 910.9,553.5 911.7,553.2 912.4,552.3 913.1,553.4 913.8,553.6 914.5,552.9 915.3,553.2 916.0,553.4 916.7,553.2 917.4,553.2 918.2,553.5 918.9,553.9 919.6,554.2 920.3,554.0 921.1,553.1 921.8,552.9 922.5,552.7 923.2,553.5 923.9,554.5 924.7,555.0 925.4,555.3 926.1,555.5 926.8,554.5 927.6,555.1 928.3,555.2 929.0,554.0 929.7,553.2 930.4,552.7 931.2,553.9 931.9,553.6 932.6,553.1 933.3,553.9 934.1,553.8 934.8,553.2 935.5,553.0 936.2,553.7 936.9,553.3 937.7,553.3 938.4,554.2 939.1,554.2 939.8,553.9 940.6,553.9 941.3,552.9 942.0,553.0 942.7,552.9 943.4,552.2 944.2,551.5 944.9,552.5 945.6,552.2 946.3,551.2 947.1,551.2 947.8,551.5 948.5,549.9 949.2,548.7 950.0,548.1 950.7,548.8 951.4,547.9 952.1,548.4 952.8,548.5 953.6,548.3 954.3,547.4 955.0,548.4 955.7,548.6 956.5,548.2 957.2,547.3 957.9,547.7 958.6,547.4 959.3,547.6 960.1,547.2 960.8,547.6 961.5,546.7 962.2,546.6 963.0,547.9 963.7,548.5 964.4,547.7 965.1,548.4 965.8,547.6 966.6,548.5 967.3,548.6 968.0,548.0 968.7,547.3 969.5,546.4 970.2,547.6 970.9,546.6 971.6,547.6 972.3,548.5 973.1,548.2 973.8,547.3 974.5,548.1 975.2,548.8 976.0,548.7 976.7,548.2 977.4,547.6 978.1,547.2 978.9,546.6 979.6,547.2 980.3,547.0 981.0,546.4 981.7,545.8 982.5,546.6 983.2,546.2 983.9,546.4 984.6,546.1 985.4,547.0 986.1,547.6 986.8,546.1 987.5,545.5 988.2,545.4 989.0,546.6 989.7,546.9 990.4,546.1 991.1,545.3 991.9,545.8 992.6,546.3 993.3,546.8 994.0,545.8 994.7,546.3 995.5,546.1 996.2,545.6 996.9,546.2 997.6,545.0 998.4,545.2 999.1,544.0 999.8,543.3 1000.5,544.4 1001.2,543.5 1002.0,544.1 1002.7,544.0 1003.4,544.4 1004.1,543.5 1004.9,542.9 1005.6,542.3 1006.3,543.1 1007.0,542.9 1007.8,543.4 1008.5,543.5 1009.2,541.9 1009.9,541.7 1010.6,540.6 1011.4,539.6 1012.1,538.9 1012.8,540.0 1013.5,540.3 1014.3,540.4 1015.0,539.3 1015.7,539.0 1016.4,539.0 1017.1,537.9 1017.9,537.5 1018.6,536.4 1019.3,535.2 1020.0,534.7 1020.8,535.4 1021.5,535.0 1022.2,535.3 1022.9,534.3 1023.6,533.1 1024.4,533.3 1025.1,533.3 1025.8,531.4 1026.5,531.5 1027.3,530.2 1028.0,529.3 1028.7,530.1 1029.4,528.7 1030.1,528.1 1030.9,529.1 1031.6,528.3 1032.3,527.1 1033.0,526.3 1033.8,525.7 1034.5,526.3 1035.2,525.1 1035.9,525.9 1036.7,525.1 1037.4,525.6 1038.1,525.6 1038.8,524.2 1039.5,523.1 1040.3,522.7 1041.0,521.5 1041.7,521.7 1042.4,520.4 1043.2,519.4 1043.9,520.5 1044.6,519.6 1045.3,519.5 1046.0,519.0 1046.8,518.1 1047.5,516.9 1048.2,517.7 1048.9,518.1 1049.7,518.1 1050.4,516.2 1051.1,515.0 1051.8,514.9 1052.5,515.4 1053.3,514.6 1054.0,514.2 1054.7,513.7 1055.4,512.4 1056.2,512.0 1056.9,511.0 1057.6,510.2 1058.3,509.2 1059.0,508.8 1059.8,509.8 1060.5,509.1 1061.2,508.7 1061.9,508.3 1062.7,507.9 1063.4,507.5 1064.1,507.1 1064.8,506.8 1065.6,506.4 1066.3,506.1 1067.0,505.7 1067.7,505.4 1068.4,505.0 1069.2,504.7 1069.9,504.3 1070.6,504.0 1071.3,503.7 1072.1,503.3 1072.8,503.0 1073.5,502.6 1074.2,502.2 1074.9,501.9 1075.7,501.5 1076.4,501.1 1077.1,500.7 1077.8,500.3 1078.6,499.9 1079.3,499.4 1080.0,499.0 1080.7,498.5 1081.4,498.0 1082.2,497.5 1082.9,497.0 1083.6,496.5 1084.3,495.9 1085.1,495.4 1085.8,494.8 1086.5,494.2 1087.2,493.6 1087.9,493.0 1088.7,492.4 1089.4,491.8 1090.1,491.2 1090.8,490.6 1091.6,490.0 1092.3,489.4 1093.0,488.8 1093.7,488.3 1094.5,487.7 1095.2,487.1 1095.9,486.5 1096.6,486.0 1097.3,485.4 1098.1,484.9 1098.8,484.3 1099.5,483.8 1100.2,483.2 1101.0,482.7 1101.7,482.2 1102.4,481.6 1103.1,481.1 1103.8,480.5 1104.6,480.0 1105.3,479.5 1106.0,478.9 1106.7,478.4 1107.5,477.8 1108.2,477.3 1108.9,476.7 1109.6,476.1 1110.3,475.6 1111.1,475.0 1111.8,474.4 1112.5,473.8 1113.2,473.2 1114.0,472.6 1114.7,472.0 1115.4,471.4 1116.1,470.7 1116.8,470.1 1117.6,469.4 1118.3,468.7 1119.0,468.0 1119.7,467.3 1120.5,466.5 1121.2,465.8 1121.9,465.0 1122.6,464.2 1123.4,463.5 1124.1,462.7 1124.8,461.9 1125.5,461.1 1126.2,460.3 1127.0,459.6 1127.7,458.8 1128.4,458.1 1129.1,457.4 1129.9,456.7 1130.6,456.0 1131.3,455.4 1132.0,454.7 1132.7,454.1 1133.5,453.5 1134.2,452.9 1134.9,452.3 1135.6,451.7 1136.4,451.1 1137.1,450.6 1137.8,450.0 1138.5,449.4 1139.2,448.9 1140.0,448.3 1140.7,447.7 1141.4,447.2 1142.1,446.6 1142.9,446.0 1143.6,445.5 1144.3,444.9 1145.0,444.3 1145.7,443.7 1146.5,443.0 1147.2,442.4 1147.9,441.8 1148.6,441.1 1149.4,440.4 1150.1,439.8 1150.8,439.1 1151.5,438.4 1152.3,437.7 1153.0,437.0 1153.7,436.2 1154.4,435.5 1155.1,434.8 1155.9,434.1 1156.6,433.3 1157.3,432.5 1158.0,431.8 1158.8,431.0 1159.5,430.2 1160.2,429.4 1160.9,428.6 1161.6,427.8 1162.4,427.0 1163.1,426.1 1163.8,425.3 1164.5,424.4 1165.3,423.6 1166.0,422.7 1166.7,421.8 1167.4,420.9 1168.1,420.0 1168.9,419.1 1169.6,418.1 1170.3,417.2 1171.0,416.3 1171.8,415.3 1172.5,414.4 1173.2,413.4 1173.9,412.4 1174.6,411.5 1175.4,410.5 1176.1,409.5 1176.8,408.5 1177.5,407.5 1178.3,406.5 1179.0,405.5 1179.7,404.5 1180.4,403.5 1181.2,402.5 1181.9,401.5 1182.6,400.5 1183.3,399.5 1184.0,398.5 1184.8,397.5 1185.5,396.5 1186.2,395.5 1186.9,394.4 1187.7,393.4 1188.4,392.4 1189.1,391.4 1189.8,390.4 1190.5,389.4 1191.3,388.4 1192.0,387.4 1192.7,386.5 1193.4,385.5 1194.2,384.5 1194.9,383.5 1195.6,382.6 1196.3,381.6 1197.0,380.6 1197.8,379.7 1198.5,378.8 1199.2,377.8 1199.9,376.9 1200.7,376.0 1201.4,375.1 1202.1,374.2 1202.8,373.3 1203.5,372.4 1204.3,371.5 1205.0,370.6 1205.7,369.8 1206.4,368.9 1207.2,368.1 1207.9,367.2 1208.6,366.4 1209.3,365.5 1210.1,364.7 1210.8,363.8 1211.5,362.9 1212.2,362.1 1212.9,361.2 1213.7,360.4 1214.4,359.5 1215.1,358.6 1215.8,357.8 1216.6,356.9 1217.3,356.0 1218.0,355.1 1218.7,354.2 1219.4,353.3 1220.2,352.3 1220.9,351.4 1221.6,350.4 1222.3,349.4 1223.1,348.4 1223.8,347.4 1224.5,346.4 1225.2,345.4 1225.9,344.4 1226.7,343.5 1227.4,342.5 1228.1,341.6 1228.8,340.7 1229.6,339.9 1230.3,339.1 1231.0,338.3 1231.7,337.5 1232.4,336.8 1233.2,336.0 1233.9,335.3 1234.6,334.6 1235.3,333.9 1236.1,333.2 1236.8,332.5 1237.5,331.8 1238.2,331.1 1239.0,330.4 1239.7,329.8 1240.4,329.1 1241.1,328.5 1241.8,327.8 1242.6,327.2 1243.3,326.6 1244.0,326.0 1244.7,325.3 1245.5,324.7 1246.2,324.1 1246.9,323.5 1247.6,322.9 1248.3,322.3 1249.1,321.7 1249.8,321.1 1250.5,320.5 1251.2,319.9 1252.0,319.3 1252.7,318.7 1253.4,318.1 1254.1,317.5 1254.8,316.9 1255.6,316.3 1256.3,315.7 1257.0,315.1 1257.7,314.5 1258.5,313.9 1259.2,313.3 1259.9,312.7 1260.6,312.0 1261.3,311.4 1262.1,310.8 1262.8,310.2 1263.5,309.6 1264.2,309.0 1265.0,308.4 1265.7,307.8 1266.4,307.2 1267.1,306.7 1267.9,306.1 1268.6,305.5 1269.3,304.9 1270.0,304.4 1270.7,303.8 1271.5,303.2 1272.2,302.7 1272.9,302.2 1273.6,301.6 1274.4,301.1 1275.1,300.6 1275.8,300.1 1276.5,299.6 1277.2,299.1 1278.0,298.6 1278.7,298.1 1279.4,297.6 1280.1,297.1 1280.9,296.6 1281.6,296.1 1282.3,295.6 1283.0,295.2 1283.7,294.7 1284.5,294.2 1285.2,293.7 1285.9,293.3 1286.6,292.8 1287.4,292.3 1288.1,291.9 1288.8,291.4 1289.5,290.9 1290.2,290.5 1291.0,290.0 1291.7,289.6 1292.4,289.1 1293.1,288.7 1293.9,288.2 1294.6,287.8 1295.3,287.4 1296.0,286.9 1296.8,286.5 1297.5,286.1 1298.2,285.6 1298.9,285.2 1299.6,284.8 1300.4,284.4 1301.1,284.0 1301.8,283.6 1302.5,283.2 1303.3,282.8 1304.0,282.4 1304.7,282.0 1305.4,281.6 1306.1,281.2 1306.9,280.8 1307.6,280.4 1308.3,280.0 1309.0,279.6 1309.8,279.2 1310.5,278.9 1311.2,278.5 1311.9,278.1 1312.6,277.8 1313.4,277.4 1314.1,277.0 1314.8,276.7 1315.5,276.3 1316.3,276.0 1317.0,275.6 1317.7,275.3 1318.4,274.9 1319.1,274.6 1319.9,274.2 1320.6,273.9 1321.3,273.5 1322.0,273.2 1322.8,272.9 1323.5,272.5 1324.2,272.2 1324.9,271.9 1325.7,271.6 1326.4,271.2 1327.1,270.9 1327.8,270.6 1328.5,270.3 1329.3,270.0 1330.0,269.6 1330.7,269.3 1331.4,269.0 1332.2,268.7 1332.9,268.4 1333.6,268.1 1334.3,267.8 1335.0,267.5 1335.8,267.2 1336.5,266.9 1337.2,266.6 1337.9,266.3 1338.7,266.0 1339.4,265.7 1340.1,265.4 1340.8,265.1 1341.5,264.8 1342.3,264.5 1343.0,264.2 1343.7,263.9 1344.4,263.6 1345.2,263.3 1345.9,263.0 1346.6,262.7 1347.3,262.4 1348.0,262.1 1348.8,261.9 1349.5,261.6 1350.2,261.3 1350.9,261.0 1351.7,260.7 1352.4,260.4 1353.1,260.2 1353.8,259.9 1354.6,259.6 1355.3,259.3 1356.0,259.1 1356.7,258.8 1357.4,258.5 1358.2,258.2 1358.9,258.0 1359.6,257.7 1360.3,257.4 1361.1,257.2 1361.8,256.9 1362.5,256.6 1363.2,256.4 1363.9,256.1 1364.7,255.9 1365.4,255.6 1366.1,255.3 1366.8,255.1 1367.6,254.8 1368.3,254.6 1369.0,254.3 1369.7,254.0 1370.4,253.8 1371.2,253.5 1371.9,253.3 1372.6,253.0 1373.3,252.8 1374.1,252.5 1374.8,252.3 1375.5,252.0 1376.2,251.7 1376.9,251.5 1377.7,251.2 1378.4,251.0 1379.1,250.7 1379.8,250.5 1380.6,250.2 1381.3,250.0 1382.0,249.7 1382.7,249.5 1383.5,249.2 1384.2,249.0 1384.9,248.7 1385.6,248.4 1386.3,248.2 1387.1,247.9 1387.8,247.7 1388.5,247.4 1389.2,247.2 1390.0,246.9 1390.7,246.7 1391.4,246.4 1392.1,246.2 1392.8,245.9 1393.6,245.7 1394.3,245.4 1395.0,245.2 1395.7,244.9 1396.5,244.7 1397.2,244.4 1397.9,244.2 1398.6,243.9 1399.3,243.7 1400.1,243.4 1400.8,243.2 1401.5,242.9 1402.2,242.7 1403.0,242.5 1403.7,242.2 1404.4,242.0 1405.1,241.7 1405.8,241.5 1406.6,241.3 1407.3,241.0 1408.0,240.8 1408.7,240.6 1409.5,240.3 1410.2,240.1 1410.9,239.9 1411.6,239.7 1412.4,239.4 1413.1,239.2 1413.8,239.0 1414.5,238.8 1415.2,238.6 1416.0,238.4 1416.7,238.1 1417.4,237.9 1418.1,237.7 1418.9,237.5 1419.6,237.3 1420.3,237.1 1421.0,236.9 1421.7,236.7 1422.5,236.5 1423.2,236.3 1423.9,236.1 1424.6,235.8 1425.4,235.6 1426.1,235.4 1426.8,235.2 1427.5,235.0 1428.2,234.8 1429.0,234.6 1429.7,234.4 1430.4,234.2 1431.1,234.0 1431.9,233.8 1432.6,233.6 1433.3,233.5 1434.0,233.3 1434.7,233.1 1435.5,232.9 1436.2,232.7 1436.9,232.5 1437.6,232.3 1438.4,232.1 1439.1,231.9 1439.8,231.8 1440.5,231.6 1441.3,231.4 1442.0,231.2 1442.7,231.1 1443.4,230.9 1444.1,230.7 1444.9,230.5 1445.6,230.4 1446.3,230.2 1447.0,230.0 1447.8,229.9 1448.5,229.7 1449.2,229.6 1449.9,229.4 1450.6,229.2 1451.4,229.1 1452.1,228.9 1452.8,228.8 1453.5,228.6 1454.3,228.5 1455.0,228.4 1455.7,228.2 1456.4,228.1 1457.1,228.0 1457.9,227.8 1458.6,227.7 1459.3,227.6 1460.0,227.4 1460.8,227.3 1461.5,227.2 1462.2,227.1 1462.9,227.0 1463.6,226.8 1464.4,226.7 1465.1,226.6 1465.8,226.5 1466.5,226.4 1467.3,226.2 1468.0,226.1 1468.7,226.0 1469.4,225.9 1470.2,225.8 1470.9,225.7 1471.6,225.6 1472.3,225.4 1473.0,225.3 1473.8,225.2 1474.5,225.1 1475.2,225.0 1475.9,224.9 1476.7,224.8 1477.4,224.6 1478.1,224.5 1478.8,224.4 1479.5,224.3 1480.3,224.1 1481.0,224.0 1481.7,223.9 1482.4,223.8 1483.2,223.6 1483.9,223.5 1484.6,223.4 1485.3,223.2 1486.0,223.1 1486.8,222.9 1487.5,222.8 1488.2,222.7 1488.9,222.5 1489.7,222.3 1490.4,222.2 1491.1,222.0 1491.8,221.9 1492.5,221.7 1493.3,221.5 1494.0,221.4 1494.7,221.2 1495.4,221.0 1496.2,220.9 1496.9,220.7 1497.6,220.5 1498.3,220.4 1499.1,220.2 1499.8,220.0 1500.5,219.9 1501.2,219.7 1501.9,219.6 1502.7,219.4 1503.4,219.3 1504.1,219.1 1504.8,219.0 1505.6,218.8 1506.3,218.7 1507.0,218.5 1507.7,218.4 1508.4,218.2 1509.2,218.1 1509.9,217.9 1510.6,217.8 1511.3,217.6 1512.1,217.5 1512.8,217.3 1513.5,217.2 1514.2,217.0 1514.9,216.9 1515.7,216.7 1516.4,216.6 1517.1,216.5 1517.8,216.3 1518.6,216.2 1519.3,216.0 1520.0,215.9 1520.7,215.7 1521.4,215.6 1522.0,215.5"/>
<polyline stroke="#0a6be0" marker-start="url(#mb)" marker-mid="url(#mb)" marker-end="url(#mb)" points="366.0,341.0 366.6,341.1 367.3,341.3 368.0,341.5 368.8,341.7 369.5,341.9 370.2,342.1 370.9,342.3 371.7,342.5 372.4,342.8 373.1,343.0 373.8,343.3 374.5,343.6 375.3,344.0 376.0,344.3 376.7,344.7 377.4,345.0 378.2,345.4 378.9,345.8 379.6,346.3 380.3,346.7 381.0,347.2 381.8,347.6 382.5,348.1 383.2,348.6 383.9,349.1 384.7,349.7 385.4,350.2 386.1,350.7 386.8,351.3 387.6,351.8 388.3,352.4 389.0,353.0 389.7,353.6 390.4,354.1 391.2,354.7 391.9,355.3 392.6,355.9 393.3,356.5 394.1,357.1 394.8,357.7 395.5,358.3 396.2,358.9 396.9,359.5 397.7,360.1 398.4,360.7 399.1,361.3 399.8,361.9 400.6,362.5 401.3,363.1 402.0,363.7 402.7,364.3 403.4,364.8 404.2,365.4 404.9,366.0 405.6,366.5 406.3,367.1 407.1,367.6 407.8,368.1 408.5,368.7 409.2,369.2 409.9,369.8 410.7,370.3 411.4,370.8 412.1,371.4 412.8,371.9 413.6,372.5 414.3,373.0 415.0,373.6 415.7,374.1 416.5,374.7 417.2,375.2 417.9,375.8 418.6,376.4 419.3,376.9 420.1,377.5 420.8,378.0 421.5,378.6 422.2,379.2 423.0,379.7 423.7,380.3 424.4,380.8 425.1,381.4 425.8,382.0 426.6,382.5 427.3,383.1 428.0,383.7 428.7,384.3 429.5,384.8 430.2,385.4 430.9,386.0 431.6,386.6 432.3,387.1 433.1,387.7 433.8,388.3 434.5,388.9 435.2,389.5 436.0,390.1 436.7,390.6 437.4,391.2 438.1,391.8 438.8,392.4 439.6,393.0 440.3,393.6 441.0,394.2 441.7,394.8 442.5,395.4 443.2,396.0 443.9,396.6 444.6,397.2 445.4,397.8 446.1,398.4 446.8,399.0 447.5,399.6 448.2,400.2 449.0,400.8 449.7,401.4 450.4,402.0 451.1,402.6 451.9,403.2 452.6,403.8 453.3,404.5 454.0,405.1 454.7,405.7 455.5,406.3 456.2,406.9 456.9,407.6 457.6,408.2 458.4,408.8 459.1,409.4 459.8,410.0 460.5,410.7 461.2,411.3 462.0,411.9 462.7,412.5 463.4,413.2 464.1,413.8 464.9,414.4 465.6,415.0 466.3,415.7 467.0,416.3 467.7,416.9 468.5,417.5 469.2,418.2 469.9,418.8 470.6,419.4 471.4,420.1 472.1,420.7 472.8,421.3 473.5,422.0 474.3,422.6 475.0,423.2 475.7,423.9 476.4,424.5 477.1,425.1 477.9,425.8 478.6,426.4 479.3,427.0 480.0,427.7 480.8,428.3 481.5,428.9 482.2,429.6 482.9,430.2 483.6,430.8 484.4,431.5 485.1,432.1 485.8,432.7 486.5,433.4 487.3,434.0 488.0,434.6 488.7,435.3 489.4,435.9 490.1,436.5 490.9,437.2 491.6,437.8 492.3,438.4 493.0,439.1 493.8,439.7 494.5,440.3 495.2,441.0 495.9,441.6 496.6,442.3 497.4,442.9 498.1,443.5 498.8,444.2 499.5,444.8 500.3,445.4 501.0,446.0 501.7,446.7 502.4,447.3 503.2,447.9 503.9,448.6 504.6,449.2 505.3,449.8 506.0,450.4 506.8,451.1 507.5,451.7 508.2,452.3 508.9,452.9 509.7,453.5 510.4,454.2 511.1,454.8 511.8,455.4 512.5,456.0 513.3,456.7 514.0,457.3 514.7,457.9 515.4,458.5 516.2,459.1 516.9,459.7 517.6,460.4 518.3,461.0 519.0,461.6 519.8,462.2 520.5,462.8 521.2,463.4 521.9,464.0 522.7,464.6 523.4,465.2 524.1,465.8 524.8,466.4 525.5,467.0 526.3,467.6 527.0,468.2 527.7,468.8 528.4,469.4 529.2,470.0 529.9,470.6 530.6,471.2 531.3,471.8 532.1,472.4 532.8,473.0 533.5,473.6 534.2,474.1 534.9,474.7 535.7,475.3 536.4,475.9 537.1,476.5 537.8,477.1 538.6,477.6 539.3,478.2 540.0,478.8 540.7,479.4 541.4,479.9 542.2,480.5 542.9,481.1 543.6,481.6 544.3,482.2 545.1,482.8 545.8,483.3 546.5,483.9 547.2,484.4 547.9,485.0 548.7,485.6 549.4,486.1 550.1,486.7 550.8,487.2 551.6,487.8 552.3,488.3 553.0,488.8 553.7,489.4 554.4,489.9 555.2,490.5 555.9,491.0 556.6,491.5 557.3,492.1 558.1,492.6 558.8,493.1 559.5,493.7 560.2,494.2 561.0,494.7 561.7,495.2 562.4,495.8 563.1,496.3 563.8,496.8 564.6,497.3 565.3,497.8 566.0,498.3 566.7,498.8 567.5,499.3 568.2,499.8 568.9,500.3 569.6,500.8 570.3,501.3 571.1,501.8 571.8,502.3 572.5,502.7 573.2,503.2 574.0,503.7 574.7,504.2 575.4,504.7 576.1,505.1 576.8,505.6 577.6,506.1 578.3,506.6 579.0,507.0 579.7,507.5 580.5,507.9 581.2,508.4 581.9,508.9 582.6,509.3 583.3,509.8 584.1,510.2 584.8,510.7 585.5,511.1 586.2,511.5 587.0,512.0 587.7,512.4 588.4,512.9 589.1,513.3 589.9,513.7 590.6,514.1 591.3,514.6 592.0,515.0 592.7,515.4 593.5,515.8 594.2,516.3 594.9,516.7 595.6,517.1 596.4,517.5 597.1,517.9 597.8,518.3 598.5,518.7 599.2,519.1 600.0,519.5 600.7,519.9 601.4,520.3 602.1,520.7 602.9,521.1 603.6,521.5 604.3,521.9 605.0,522.3 605.7,522.7 606.5,523.1 607.2,523.4 607.9,523.8 608.6,524.2 609.4,524.6 610.1,525.0 610.8,525.3 611.5,525.7 612.2,526.1 613.0,526.4 613.7,526.8 614.4,527.2 615.1,527.5 615.9,527.9 616.6,528.3 617.3,528.6 618.0,529.0 618.8,529.3 619.5,529.7 620.2,530.0 620.9,530.4 621.6,530.7 622.4,531.1 623.1,531.4 623.8,531.8 624.5,532.1 625.3,532.5 626.0,532.8 626.7,533.1 627.4,533.5 628.1,533.8 628.9,534.1 629.6,534.4 630.3,534.8 631.0,535.1 631.8,535.4 632.5,535.7 633.2,536.0 633.9,536.3 634.6,536.7 635.4,537.0 636.1,537.3 636.8,537.6 637.5,537.9 638.3,538.2 639.0,538.5 639.7,538.8 640.4,539.1 641.1,539.4 641.9,539.7 642.6,540.0 643.3,540.3 644.0,540.6 644.8,540.9 645.5,541.2 646.2,541.5 646.9,541.8 647.7,542.1 648.4,542.4 649.1,542.7 649.8,542.9 650.5,543.2 651.3,543.5 652.0,543.8 652.7,544.1 653.4,544.4 654.2,544.7 654.9,544.9 655.6,545.2 656.3,545.5 657.0,545.8 657.8,546.1 658.5,546.3 659.2,546.6 659.9,546.9 660.7,547.2 661.4,547.4 662.1,547.7 662.8,548.0 663.5,548.3 664.3,548.5 665.0,548.8 665.7,549.1 666.4,549.4 667.2,549.6 667.9,549.9 668.6,550.2 669.3,550.4 670.0,550.7 670.8,551.0 671.5,551.2 672.2,551.5 672.9,551.7 673.7,552.0 674.4,552.3 675.1,552.5 675.8,552.8 676.6,553.0 677.3,553.3 678.0,553.6 678.7,553.8 679.4,554.1 680.2,554.3 680.9,554.6 681.6,554.9 682.3,555.1 683.1,555.4 683.8,555.7 684.5,555.9 685.2,556.2 685.9,556.5 686.7,556.8 687.4,557.0 688.1,557.3 688.8,557.6 689.6,557.8 690.3,558.1 691.0,558.4 691.7,558.7 692.4,559.0 693.2,559.2 693.9,559.5 694.6,559.8 695.3,560.1 696.1,560.3 696.8,560.6 697.5,560.9 698.2,561.2 698.9,561.5 699.7,561.8 700.4,562.1 701.1,562.4 701.8,562.7 702.6,563.0 703.3,563.3 704.0,563.6 704.7,563.9 705.5,564.2 706.2,564.5 706.9,564.8 707.6,565.1 708.3,565.4 709.1,565.7 709.8,566.1 710.5,566.4 711.2,566.7 712.0,567.0 712.7,567.4 713.4,567.7 714.1,568.0 714.8,568.4 715.6,568.7 716.3,569.0 717.0,569.4 717.7,569.7 718.5,570.1 719.2,570.4 719.9,570.8 720.6,571.1 721.3,571.5 722.1,571.8 722.8,572.2 723.5,572.5 724.2,572.9 725.0,573.3 725.7,573.6 726.4,574.0 727.1,574.4 727.8,574.8 728.6,575.1 729.3,575.5 730.0,575.9 730.7,576.3 731.5,576.7 732.2,577.0 732.9,577.4 733.6,577.8 734.4,578.2 735.1,578.6 735.8,579.0 736.5,579.4 737.2,579.8 738.0,580.2 738.7,580.7 739.4,581.1 740.1,581.5 740.9,581.9 741.6,582.3 742.3,582.7 743.0,583.1 743.7,583.6 744.5,584.0 745.2,584.4 745.9,584.8 746.6,585.3 747.4,585.7 748.1,586.1 748.8,586.6 749.5,587.0 750.2,587.5 751.0,587.9 751.7,588.3 752.4,588.8 753.1,589.2 753.9,589.7 754.6,590.2 755.3,590.6 756.0,591.1 756.8,591.5 757.5,592.0 758.2,592.5 758.9,592.9 759.6,593.4 760.4,593.9 761.1,594.3 761.8,594.8 762.5,595.3 763.3,595.8 764.0,596.2 764.7,596.7 765.4,597.2 766.1,597.7 766.9,598.2 767.6,598.7 768.3,599.2 769.0,599.7 769.8,600.2 770.5,600.7 771.2,601.2 771.9,601.7 772.6,602.2 773.4,602.7 774.1,603.3 774.8,603.8 775.5,604.3 776.3,604.8 777.0,605.3 777.7,605.9 778.4,606.4 779.1,606.9 779.9,607.4 780.6,608.0 781.3,608.5 782.0,609.0 782.8,609.6 783.5,610.1 784.2,610.6 784.9,611.1 785.6,611.6 786.4,612.2 787.1,612.7 787.8,613.2 788.5,613.7 789.3,614.3 790.0,614.8 790.7,615.3 791.4,615.8 792.2,616.4 792.9,616.9 793.6,617.4 794.3,617.9 795.0,618.5 795.8,619.0 796.5,619.5 797.2,620.0 797.9,620.6 798.7,621.1 799.4,621.6 800.1,622.1 800.8,622.7 801.5,623.2 802.3,623.7 803.0,624.2 803.7,624.7 804.4,625.2 805.2,625.8 805.9,626.3 806.6,626.8 807.3,627.3 808.0,627.8 808.8,628.3 809.5,628.8 810.2,629.3 810.9,629.8 811.7,630.3 812.4,630.8 813.1,631.3 813.8,631.8 814.5,632.3 815.3,632.8 816.0,633.4 816.7,633.9 817.4,634.4 818.2,634.9 818.9,635.4 819.6,635.9 820.3,636.4 821.1,636.9 821.8,637.4 822.5,637.9 823.2,638.4 823.9,638.9 824.7,639.4 825.4,639.9 826.1,640.4 826.8,640.9 827.6,641.5 828.3,642.0 829.0,642.5 829.7,643.0 830.4,643.6 831.2,644.2 831.9,644.7 832.6,645.3 833.3,645.8 834.1,646.4 834.8,647.0 835.5,647.6 836.2,648.2 836.9,648.8 837.7,649.4 838.4,650.1 839.1,650.7 839.8,651.4 840.6,652.1 841.3,652.8 842.0,653.5 842.7,654.2 843.4,655.0 844.2,655.8 844.9,656.6 845.6,657.4 846.3,658.3 847.1,659.2 847.8,660.1 848.5,661.0 849.2,662.0 850.0,663.1 850.7,664.2 851.4,665.4 852.1,666.6 852.8,667.8 853.6,669.1 854.3,670.5 855.0,671.9 855.7,673.4 856.5,674.9 857.2,676.6 857.9,678.4 858.6,680.2 859.3,682.2 860.1,684.1 860.8,686.2 861.5,688.2 862.2,690.3 863.0,692.5 863.7,694.7 864.4,696.9 865.1,699.2 865.8,701.5 866.6,703.8 867.3,706.2 868.0,708.6 868.7,711.1 869.5,713.5 870.2,716.1 870.9,718.6 871.6,721.2 872.3,723.8 873.1,726.5 873.8,729.3 874.5,732.2 875.2,735.4 876.0,738.7 876.7,742.3 877.4,746.2 878.1,750.4 878.9,755.0 879.6,760.0 880.3,765.6 881.0,771.8 881.7,779.0 882.5,787.3 883.2,797.3 884.3,826.0 885.0,974.6 885.9,810.5 886.5,870.8 887.2,952.8 887.3,900.8 888.0,860.8 889.0,822.5 889.7,771.3 890.4,762.1 891.1,754.7 891.9,747.9 892.6,743.0 893.3,735.3 894.0,732.0 894.7,718.6 895.5,718.6 896.2,718.7 896.9,710.9 897.6,708.5 898.4,695.6 899.1,694.4 899.8,687.7 900.5,686.7 901.2,683.5 902.0,675.2 902.7,675.1 903.4,673.8 904.1,678.3 904.9,675.2 905.6,671.2 906.3,670.6 907.0,667.9 907.8,667.2 908.5,664.9 909.2,662.7 909.9,663.3 910.6,661.4 911.4,659.7 912.1,660.4 912.8,660.1 913.5,657.8 914.3,658.0 915.0,656.5 915.7,655.6 916.4,653.3 917.1,653.6 917.9,652.6 918.6,652.4 919.3,651.6 920.0,649.0 920.8,647.2 921.5,645.0 922.2,642.9 922.9,640.6 923.6,639.0 924.4,638.3 925.1,635.8 925.8,635.9 926.5,635.2 927.3,635.0 928.0,636.3 928.7,636.2 929.4,635.8 930.1,636.0 930.9,636.8 931.6,635.6 932.3,637.5 933.0,636.0 933.8,637.2 934.5,638.3 935.2,636.7 935.9,637.9 936.7,637.5 937.4,637.9 938.1,636.6 938.8,635.9 939.5,635.9 940.3,638.0 941.0,637.1 941.7,638.1 942.4,639.1 943.2,639.6 943.9,638.2 944.6,637.3 945.3,637.1 946.0,637.6 946.8,635.9 947.5,636.5 948.2,636.9 948.9,637.1 949.7,634.6 950.4,635.4 951.1,633.0 951.8,632.0 952.5,631.8 953.3,632.1 954.0,630.4 954.7,630.7 955.4,629.6 956.2,628.1 956.9,627.0 957.6,626.0 958.3,625.1 959.0,624.9 959.8,626.3 960.5,628.1 961.2,626.9 961.9,626.0 962.7,628.1 963.4,628.2 964.1,628.0 964.8,627.5 965.6,628.3 966.3,629.4 967.0,629.1 967.7,628.9 968.4,627.7 969.2,629.4 969.9,627.9 970.6,628.3 971.3,629.4 972.1,628.1 972.8,628.9 973.5,629.9 974.2,629.5 974.9,629.6 975.7,627.7 976.4,627.4 977.1,626.3 977.8,627.5 978.6,626.5 979.3,626.3 980.0,627.5 980.7,627.7 981.4,628.1 982.2,626.7 982.9,625.9 983.6,625.9 984.3,625.1 985.1,624.0 985.8,623.5 986.5,622.4 987.2,622.3 987.9,623.8 988.7,624.6 989.4,624.0 990.1,623.2 990.8,622.2 991.6,620.8 992.3,620.4 993.0,621.5 993.7,622.2 994.5,621.2 995.2,621.7 995.9,621.9 996.6,621.6 997.3,621.3 998.1,621.3 998.8,620.1 999.5,620.3 1000.2,619.1 1001.0,618.8 1001.7,619.4 1002.4,619.4 1003.1,618.2 1003.8,619.3 1004.6,619.0 1005.3,618.5 1006.0,616.5 1006.7,616.8 1007.5,616.0 1008.2,616.6 1008.9,616.3 1009.6,617.0 1010.3,616.9 1011.1,617.2 1011.8,616.0 1012.5,616.0 1013.2,616.2 1014.0,616.5 1014.7,615.2 1015.4,615.8 1016.1,616.1 1016.8,615.7 1017.6,616.2 1018.3,616.3 1019.0,615.1 1019.7,614.3 1020.5,612.8 1021.2,613.6 1021.9,614.3 1022.6,613.4 1023.4,613.3 1024.1,613.2 1024.8,613.1 1025.5,611.4 1026.2,612.0 1027.0,611.7 1027.7,611.6 1028.4,610.8 1029.1,610.7 1029.9,611.0 1030.6,610.7 1031.3,610.6 1032.0,608.4 1032.7,607.4 1033.5,607.5 1034.2,607.9 1034.9,606.9 1035.6,607.4 1036.4,607.5 1037.1,605.7 1037.8,605.8 1038.5,605.0 1039.2,603.9 1040.0,603.4 1040.7,603.5 1041.4,603.1 1042.1,602.8 1042.9,602.0 1043.6,602.7 1044.3,602.8 1045.0,603.4 1045.8,603.7 1046.5,602.8 1047.2,604.0 1047.9,602.2 1048.6,602.2 1049.4,601.8 1050.1,601.8 1050.8,601.0 1051.5,602.4 1052.3,601.9 1053.0,600.6 1053.7,601.4 1054.4,600.4 1055.1,601.0 1055.9,600.7 1056.6,601.2 1057.3,602.4 1058.0,602.8 1058.8,601.8 1059.5,602.3 1060.2,602.0 1060.9,601.0 1061.6,599.8 1062.4,600.2 1063.1,600.3 1063.8,601.4 1064.5,602.0 1065.3,601.3 1066.0,600.1 1066.7,600.8 1067.4,598.6 1068.1,597.6 1068.9,598.1 1069.6,598.5 1070.3,597.4 1071.0,598.0 1071.8,599.0 1072.5,598.1 1073.2,597.7 1073.9,596.8 1074.6,596.4 1075.4,598.0 1076.1,597.3 1076.8,598.4 1077.5,599.0 1078.3,598.4 1079.0,597.1 1079.7,598.4 1080.4,597.8 1081.2,597.2 1081.9,596.6 1082.6,598.0 1083.3,597.6 1084.0,596.7 1084.8,596.7 1085.5,595.7 1086.2,596.5 1086.9,596.5 1087.7,596.1 1088.4,597.2 1089.1,598.0 1089.8,596.2 1090.5,596.6 1091.3,596.1 1092.0,597.6 1092.7,598.1 1093.4,596.9 1094.2,596.3 1094.9,595.6 1095.6,597.5 1096.3,596.7 1097.0,597.1 1097.8,597.0 1098.5,597.3 1099.2,597.5 1099.9,597.9 1100.7,596.5 1101.4,597.4 1102.1,596.7 1102.8,596.9 1103.5,596.4 1104.3,596.1 1105.0,596.5 1105.7,596.6 1106.4,596.3 1107.2,597.3 1107.9,597.4 1108.6,595.9 1109.3,595.7 1110.1,596.1 1110.8,597.6 1111.5,598.4 1112.2,598.0 1112.9,596.2 1113.7,597.3 1114.4,597.0 1115.1,597.2 1115.8,597.7 1116.6,597.8 1117.3,597.4 1118.0,598.4 1118.7,597.5 1119.4,597.0 1120.2,598.0 1120.9,596.7 1121.6,596.3 1122.3,597.5 1123.1,596.1 1123.8,597.4 1124.5,597.8 1125.2,597.3 1125.9,596.6 1126.7,597.5 1127.4,598.5 1128.1,596.9 1128.8,596.9 1129.6,597.1 1130.3,597.0 1131.0,597.0 1131.7,597.0 1132.5,597.0 1133.2,597.0 1133.9,597.0 1134.6,597.0 1135.3,597.0 1136.1,597.0 1136.8,597.0 1137.5,597.0 1138.2,597.0 1139.0,596.9 1139.7,596.9 1140.4,596.9 1141.1,596.9 1141.8,596.9 1142.6,596.9 1143.3,596.9 1144.0,596.9 1144.7,596.9 1145.5,596.8 1146.2,596.8 1146.9,596.8 1147.6,596.8 1148.3,596.8 1149.1,596.8 1149.8,596.7 1150.5,596.7 1151.2,596.7 1152.0,596.7 1152.7,596.6 1153.4,596.6 1154.1,596.6 1154.8,596.6 1155.6,596.5 1156.3,596.5 1157.0,596.5 1157.7,596.5 1158.5,596.4 1159.2,596.4 1159.9,596.4 1160.6,596.3 1161.3,596.3 1162.1,596.3 1162.8,596.2 1163.5,596.2 1164.2,596.2 1165.0,596.1 1165.7,596.1 1166.4,596.1 1167.1,596.0 1167.9,596.0 1168.6,596.0 1169.3,595.9 1170.0,595.9 1170.7,595.8 1171.5,595.8 1172.2,595.7 1172.9,595.7 1173.6,595.7 1174.4,595.6 1175.1,595.6 1175.8,595.5 1176.5,595.5 1177.2,595.4 1178.0,595.4 1178.7,595.3 1179.4,595.3 1180.1,595.2 1180.9,595.2 1181.6,595.1 1182.3,595.1 1183.0,595.0 1183.7,594.9 1184.5,594.9 1185.2,594.8 1185.9,594.8 1186.6,594.7 1187.4,594.7 1188.1,594.6 1188.8,594.5 1189.5,594.5 1190.2,594.4 1191.0,594.4 1191.7,594.3 1192.4,594.2 1193.1,594.2 1193.9,594.1 1194.6,594.0 1195.3,594.0 1196.0,593.9 1196.8,593.8 1197.5,593.8 1198.2,593.7 1198.9,593.6 1199.6,593.5 1200.4,593.5 1201.1,593.4 1201.8,593.3 1202.5,593.2 1203.3,593.1 1204.0,593.0 1204.7,592.8 1205.4,592.7 1206.1,592.5 1206.9,592.3 1207.6,592.1 1208.3,591.9 1209.0,591.7 1209.8,591.4 1210.5,591.2 1211.2,590.9 1211.9,590.7 1212.6,590.4 1213.4,590.1 1214.1,589.8 1214.8,589.5 1215.5,589.2 1216.3,588.8 1217.0,588.5 1217.7,588.2 1218.4,587.8 1219.2,587.5 1219.9,587.1 1220.6,586.7 1221.3,586.4 1222.0,586.0 1222.8,585.6 1223.5,585.2 1224.2,584.9 1224.9,584.5 1225.7,584.1 1226.4,583.7 1227.1,583.3 1227.8,582.9 1228.5,582.5 1229.3,582.0 1230.0,581.5 1230.7,581.0 1231.4,580.5 1232.2,580.0 1232.9,579.4 1233.6,578.8 1234.3,578.2 1235.0,577.6 1235.8,577.0 1236.5,576.3 1237.2,575.7 1237.9,575.0 1238.7,574.3 1239.4,573.6 1240.1,572.9 1240.8,572.1 1241.5,571.4 1242.3,570.6 1243.0,569.9 1243.7,569.1 1244.4,568.4 1245.2,567.6 1245.9,566.8 1246.6,566.0 1247.3,565.2 1248.0,564.4 1248.8,563.7 1249.5,562.9 1250.2,562.1 1250.9,561.3 1251.7,560.5 1252.4,559.7 1253.1,558.9 1253.8,558.2 1254.6,557.4 1255.3,556.6 1256.0,555.8 1256.7,555.0 1257.4,554.2 1258.2,553.4 1258.9,552.6 1259.6,551.8 1260.3,550.9 1261.1,550.1 1261.8,549.2 1262.5,548.4 1263.2,547.5 1263.9,546.7 1264.7,545.8 1265.4,544.9 1266.1,544.0 1266.8,543.1 1267.6,542.2 1268.3,541.4 1269.0,540.5 1269.7,539.6 1270.4,538.7 1271.2,537.8 1271.9,536.9 1272.6,536.0 1273.3,535.1 1274.1,534.2 1274.8,533.3 1275.5,532.4 1276.2,531.6 1277.0,530.7 1277.7,529.8 1278.4,528.9 1279.1,528.0 1279.8,527.1 1280.6,526.2 1281.3,525.2 1282.0,524.3 1282.7,523.4 1283.5,522.4 1284.2,521.4 1284.9,520.5 1285.6,519.5 1286.3,518.5 1287.1,517.4 1287.8,516.4 1288.5,515.3 1289.2,514.3 1290.0,513.1 1290.7,512.0 1291.4,510.9 1292.1,509.7 1292.8,508.5 1293.6,507.2 1294.3,506.0 1295.0,504.7 1295.7,503.4 1296.5,502.1 1297.2,500.8 1297.9,499.5 1298.6,498.1 1299.3,496.8 1300.1,495.4 1300.8,494.1 1301.5,492.7 1302.2,491.3 1303.0,489.9 1303.7,488.5 1304.4,487.2 1305.1,485.8 1305.8,484.4 1306.6,483.0 1307.3,481.6 1308.0,480.3 1308.7,478.9 1309.5,477.5 1310.2,476.1 1310.9,474.6 1311.6,473.2 1312.4,471.8 1313.1,470.3 1313.8,468.9 1314.5,467.4 1315.2,466.0 1316.0,464.5 1316.7,463.1 1317.4,461.6 1318.1,460.1 1318.9,458.7 1319.6,457.2 1320.3,455.8 1321.0,454.3 1321.7,452.8 1322.5,451.4 1323.2,449.9 1323.9,448.5 1324.6,447.0 1325.4,445.6 1326.1,444.1 1326.8,442.6 1327.5,441.1 1328.2,439.6 1329.0,438.1 1329.7,436.6 1330.4,435.1 1331.1,433.5 1331.9,432.0 1332.6,430.5 1333.3,429.0 1334.0,427.5 1334.8,426.0 1335.5,424.5 1336.2,423.1 1336.9,421.6 1337.6,420.2 1338.4,418.8 1339.1,417.5 1339.8,416.1 1340.5,414.8 1341.3,413.5 1342.0,412.3 1342.7,411.1 1343.4,409.9 1344.1,408.8 1344.9,407.6 1345.6,406.5 1346.3,405.4 1347.0,404.3 1347.8,403.2 1348.5,402.1 1349.2,401.0 1349.9,400.0 1350.6,399.0 1351.4,398.0 1352.1,396.9 1352.8,396.0 1353.5,395.0 1354.3,394.0 1355.0,393.1 1355.7,392.1 1356.4,391.2 1357.1,390.3 1357.9,389.4 1358.6,388.6 1359.3,387.7 1360.0,386.9 1360.8,386.0 1361.5,385.2 1362.2,384.4 1362.9,383.6 1363.7,382.8 1364.4,382.0 1365.1,381.2 1365.8,380.4 1366.5,379.7 1367.3,378.9 1368.0,378.2 1368.7,377.4 1369.4,376.7 1370.2,376.0 1370.9,375.3 1371.6,374.6 1372.3,373.9 1373.0,373.3 1373.8,372.6 1374.5,372.0 1375.2,371.4 1375.9,370.8 1376.7,370.2 1377.4,369.6 1377.5,369.5"/>
<polyline stroke="#00ad68" marker-start="url(#mg)" marker-mid="url(#mg)" marker-end="url(#mg)" points="366.0,294.3 366.5,294.3 367.3,294.3 368.0,294.4 368.7,294.4 369.4,294.4 370.2,294.5 370.9,294.6 371.6,294.7 372.3,294.7 373.0,294.8 373.8,294.9 374.5,295.0 375.2,295.2 375.9,295.3 376.7,295.5 377.4,295.8 378.1,296.0 378.8,296.3 379.5,296.5 380.3,296.8 381.0,297.2 381.7,297.5 382.4,297.9 383.2,298.2 383.9,298.6 384.6,299.0 385.3,299.4 386.0,299.9 386.8,300.3 387.5,300.8 388.2,301.2 388.9,301.7 389.7,302.2 390.4,302.7 391.1,303.1 391.8,303.6 392.5,304.1 393.3,304.7 394.0,305.2 394.7,305.7 395.4,306.2 396.2,306.7 396.9,307.2 397.6,307.7 398.3,308.2 399.1,308.7 399.8,309.2 400.5,309.7 401.2,310.2 401.9,310.7 402.7,311.2 403.4,311.6 404.1,312.1 404.8,312.5 405.6,312.9 406.3,313.4 407.0,313.8 407.7,314.2 408.4,314.6 409.2,315.0 409.9,315.5 410.6,315.9 411.3,316.3 412.1,316.7 412.8,317.2 413.5,317.6 414.2,318.0 414.9,318.4 415.7,318.9 416.4,319.3 417.1,319.7 417.8,320.2 418.6,320.6 419.3,321.0 420.0,321.5 420.7,321.9 421.4,322.3 422.2,322.8 422.9,323.2 423.6,323.6 424.3,324.1 425.1,324.5 425.8,325.0 426.5,325.4 427.2,325.9 428.0,326.3 428.7,326.8 429.4,327.2 430.1,327.7 430.8,328.1 431.6,328.6 432.3,329.0 433.0,329.5 433.7,329.9 434.5,330.4 435.2,330.8 435.9,331.3 436.6,331.8 437.3,332.2 438.1,332.7 438.8,333.2 439.5,333.6 440.2,334.1 441.0,334.5 441.7,335.0 442.4,335.5 443.1,335.9 443.8,336.4 444.6,336.9 445.3,337.3 446.0,337.8 446.7,338.3 447.5,338.7 448.2,339.2 448.9,339.7 449.6,340.2 450.3,340.6 451.1,341.1 451.8,341.6 452.5,342.1 453.2,342.5 454.0,343.0 454.7,343.5 455.4,344.0 456.1,344.4 456.9,344.9 457.6,345.4 458.3,345.9 459.0,346.4 459.7,346.8 460.5,347.3 461.2,347.8 461.9,348.3 462.6,348.8 463.4,349.2 464.1,349.7 464.8,350.2 465.5,350.7 466.2,351.2 467.0,351.6 467.7,352.1 468.4,352.6 469.1,353.1 469.9,353.6 470.6,354.1 471.3,354.6 472.0,355.0 472.7,355.5 473.5,356.0 474.2,356.5 474.9,357.0 475.6,357.5 476.4,358.0 477.1,358.5 477.8,359.0 478.5,359.4 479.2,359.9 480.0,360.4 480.7,360.9 481.4,361.4 482.1,361.9 482.9,362.4 483.6,362.9 484.3,363.4 485.0,363.8 485.8,364.3 486.5,364.8 487.2,365.3 487.9,365.8 488.6,366.3 489.4,366.8 490.1,367.3 490.8,367.7 491.5,368.2 492.3,368.7 493.0,369.2 493.7,369.7 494.4,370.2 495.1,370.7 495.9,371.1 496.6,371.6 497.3,372.1 498.0,372.6 498.8,373.1 499.5,373.6 500.2,374.1 500.9,374.6 501.6,375.0 502.4,375.5 503.1,376.0 503.8,376.5 504.5,377.0 505.3,377.5 506.0,378.0 506.7,378.5 507.4,379.0 508.1,379.5 508.9,380.0 509.6,380.5 510.3,381.0 511.0,381.5 511.8,382.0 512.5,382.4 513.2,382.9 513.9,383.4 514.7,383.9 515.4,384.4 516.1,384.9 516.8,385.4 517.5,385.9 518.3,386.4 519.0,386.9 519.7,387.4 520.4,387.9 521.2,388.4 521.9,388.9 522.6,389.4 523.3,389.9 524.0,390.4 524.8,390.9 525.5,391.4 526.2,391.9 526.9,392.4 527.7,392.9 528.4,393.4 529.1,393.9 529.8,394.4 530.5,394.9 531.3,395.5 532.0,396.0 532.7,396.5 533.4,397.0 534.2,397.5 534.9,398.0 535.6,398.5 536.3,399.0 537.0,399.5 537.8,400.0 538.5,400.5 539.2,401.0 539.9,401.5 540.7,402.0 541.4,402.5 542.1,403.0 542.8,403.5 543.6,404.0 544.3,404.5 545.0,405.0 545.7,405.5 546.4,406.0 547.2,406.5 547.9,407.0 548.6,407.5 549.3,408.0 550.1,408.5 550.8,409.0 551.5,409.6 552.2,410.1 552.9,410.6 553.7,411.1 554.4,411.6 555.1,412.1 555.8,412.6 556.6,413.1 557.3,413.6 558.0,414.1 558.7,414.6 559.4,415.2 560.2,415.7 560.9,416.2 561.6,416.7 562.3,417.2 563.1,417.7 563.8,418.2 564.5,418.7 565.2,419.3 565.9,419.8 566.7,420.3 567.4,420.8 568.1,421.3 568.8,421.8 569.6,422.3 570.3,422.8 571.0,423.4 571.7,423.9 572.5,424.4 573.2,424.9 573.9,425.4 574.6,425.9 575.3,426.4 576.1,427.0 576.8,427.5 577.5,428.0 578.2,428.5 579.0,429.0 579.7,429.5 580.4,430.1 581.1,430.6 581.8,431.1 582.6,431.6 583.3,432.1 584.0,432.7 584.7,433.2 585.5,433.7 586.2,434.2 586.9,434.8 587.6,435.3 588.3,435.8 589.1,436.3 589.8,436.9 590.5,437.4 591.2,437.9 592.0,438.4 592.7,439.0 593.4,439.5 594.1,440.0 594.8,440.6 595.6,441.1 596.3,441.6 597.0,442.1 597.7,442.7 598.5,443.2 599.2,443.7 599.9,444.3 600.6,444.8 601.4,445.3 602.1,445.9 602.8,446.4 603.5,447.0 604.2,447.5 605.0,448.0 605.7,448.6 606.4,449.1 607.1,449.6 607.9,450.2 608.6,450.7 609.3,451.3 610.0,451.8 610.7,452.3 611.5,452.9 612.2,453.4 612.9,454.0 613.6,454.5 614.4,455.1 615.1,455.6 615.8,456.1 616.5,456.7 617.2,457.2 618.0,457.8 618.7,458.3 619.4,458.9 620.1,459.4 620.9,460.0 621.6,460.5 622.3,461.1 623.0,461.6 623.7,462.2 624.5,462.7 625.2,463.3 625.9,463.8 626.6,464.4 627.4,464.9 628.1,465.5 628.8,466.1 629.5,466.6 630.3,467.2 631.0,467.7 631.7,468.3 632.4,468.9 633.1,469.4 633.9,470.0 634.6,470.5 635.3,471.1 636.0,471.7 636.8,472.2 637.5,472.8 638.2,473.4 638.9,473.9 639.6,474.5 640.4,475.1 641.1,475.7 641.8,476.2 642.5,476.8 643.3,477.4 644.0,478.0 644.7,478.5 645.4,479.1 646.1,479.7 646.9,480.3 647.6,480.9 648.3,481.5 649.0,482.1 649.8,482.7 650.5,483.3 651.2,483.9 651.9,484.4 652.6,485.0 653.4,485.6 654.1,486.2 654.8,486.8 655.5,487.4 656.3,488.0 657.0,488.7 657.7,489.3 658.4,489.9 659.2,490.5 659.9,491.1 660.6,491.7 661.3,492.3 662.0,493.0 662.8,493.6 663.5,494.2 664.2,494.8 664.9,495.5 665.7,496.1 666.4,496.7 667.1,497.4 667.8,498.0 668.5,498.6 669.3,499.3 670.0,499.9 670.7,500.6 671.4,501.2 672.2,501.9 672.9,502.5 673.6,503.2 674.3,503.8 675.0,504.5 675.8,505.2 676.5,505.8 677.2,506.5 677.9,507.2 678.7,507.8 679.4,508.5 680.1,509.2 680.8,509.9 681.5,510.6 682.3,511.3 683.0,512.0 683.7,512.7 684.4,513.4 685.2,514.2 685.9,514.9 686.6,515.6 687.3,516.3 688.1,517.1 688.8,517.8 689.5,518.6 690.2,519.3 690.9,520.1 691.7,520.8 692.4,521.6 693.1,522.4 693.8,523.2 694.6,524.0 695.3,524.8 696.0,525.6 696.7,526.4 697.4,527.2 698.2,528.1 698.9,528.9 699.6,529.8 700.3,530.6 701.1,531.5 701.8,532.4 702.5,533.3 703.2,534.2 703.9,535.1 704.7,536.0 705.4,537.0 706.1,537.9 706.8,538.9 707.6,539.8 708.3,540.8 709.0,541.8 709.7,542.8 710.4,543.8 711.2,544.8 711.9,545.9 712.6,546.9 713.3,548.0 714.1,549.1 714.8,550.2 715.5,551.3 716.2,552.4 717.0,553.5 717.7,554.7 718.4,555.8 719.1,557.0 719.8,558.2 720.6,559.4 721.3,560.6 722.0,561.9 722.7,563.1 723.5,564.4 724.2,565.7 724.9,567.0 725.6,568.4 726.3,569.7 727.1,571.0 727.8,572.4 728.5,573.8 729.2,575.1 730.0,576.5 730.7,578.0 731.4,579.4 732.1,580.8 732.8,582.3 733.6,583.7 734.3,585.2 735.0,586.6 735.7,588.1 736.5,589.6 737.2,591.1 737.9,592.6 738.6,594.0 739.3,595.5 740.1,596.9 740.8,598.3 741.5,599.5 742.2,600.8 743.0,602.3 743.7,604.1 744.4,606.3 745.1,608.9 745.9,611.8 746.6,615.0 747.3,618.3 748.0,621.9 748.7,625.4 749.5,629.0 750.2,632.5 750.9,635.9 751.6,639.1 752.4,642.1 753.1,645.2 753.8,648.4 754.5,652.0 755.2,655.9 756.0,660.0 756.7,664.5 757.4,669.5 758.1,675.1 758.9,681.3 759.6,688.3 760.3,696.6 761.0,706.4 761.7,718.6 762.5,734.7 763.2,758.4 763.9,804.6 764.6,846.9 765.4,776.1 766.1,747.7 766.8,729.6 767.5,716.3 768.2,705.7 769.0,697.0 769.7,689.6 770.4,683.1 771.1,677.4 771.9,672.2 772.6,667.5 773.3,663.2 774.0,659.3 774.8,655.6 775.5,652.2 776.2,648.9 776.9,645.9 777.6,643.2 778.4,640.8 779.1,638.3 779.8,635.9 780.5,633.6 781.3,631.4 782.0,629.2 782.7,627.2 783.4,625.2 784.1,623.3 784.9,621.5 785.6,619.8 786.3,618.3 787.0,616.8 787.8,615.5 788.5,614.2 789.2,613.1 789.9,612.0 790.6,611.0 791.4,610.1 792.1,609.2 792.8,608.3 793.5,607.5 794.3,606.8 795.0,606.0 795.7,605.3 796.4,604.6 797.1,603.9 797.9,603.2 798.6,602.5 799.3,601.9 800.0,601.4 800.8,600.8 801.5,600.3 802.2,599.7 802.9,599.2 803.7,598.7 804.4,598.2 805.1,597.7 805.8,597.2 806.5,596.6 807.3,596.1 808.0,595.5 808.7,594.9 809.4,594.3 810.2,593.6 810.9,592.9 811.6,592.2 812.3,591.4 813.0,590.6 813.8,589.8 814.5,588.9 815.2,588.1 815.9,587.2 816.7,586.3 817.4,585.3 818.1,584.4 818.8,583.5 819.5,582.6 820.3,581.6 821.0,580.7 821.7,579.8 822.4,578.9 823.2,578.0 823.9,577.1 824.6,576.3 825.3,575.4 826.0,574.6 826.8,573.8 827.5,572.9 828.2,572.1 828.9,571.2 829.7,570.4 830.4,569.5 831.1,568.6 831.8,567.7 832.6,566.8 833.3,565.9 834.0,565.0 834.7,564.1 835.4,563.2 836.2,562.2 836.9,561.1 837.6,560.0 838.3,558.7 839.1,557.4 839.8,555.9 840.5,554.3 841.2,552.7 841.9,551.0 842.7,549.3 843.4,547.4 844.1,545.6 844.8,543.7 845.6,541.8 846.3,539.9 847.0,538.0 847.7,536.1 848.4,534.2 849.2,532.3 849.9,530.5 850.6,528.8 851.3,527.0 852.1,525.2 852.8,523.4 853.5,521.6 854.2,519.8 854.9,517.9 855.7,516.1 856.4,514.3 857.1,512.4 857.8,510.6 858.6,508.9 859.3,507.1 860.0,505.4 860.7,503.7 861.5,502.1 862.2,500.5 862.9,499.0 863.6,497.5 864.3,495.9 865.1,494.3 865.8,492.7 866.5,491.1 867.2,489.5 868.0,488.1 868.7,486.7 869.4,485.5 870.1,484.5 870.8,483.7 871.6,483.1 872.3,482.8 873.0,482.4 873.7,482.1 874.5,481.8 875.2,481.6 875.9,481.3 876.6,481.0 877.3,480.8 878.1,480.6 878.8,480.4 879.5,480.2 880.2,480.7 881.0,480.9 881.7,479.7 882.4,479.1 883.1,479.7 883.8,479.9 884.6,479.9 885.3,479.4 886.0,479.6 886.7,479.6 887.5,479.7 888.2,479.1 888.9,479.1 889.6,479.1 890.4,479.5 891.1,480.2 891.8,480.5 892.5,480.1 893.2,479.7 894.0,479.3 894.7,478.7 895.4,478.3 896.1,478.7 896.9,478.7 897.6,478.8 898.3,479.6 899.0,479.6 899.7,479.6 900.5,479.1 901.2,478.6 901.9,478.7 902.6,478.5 903.4,478.8 904.1,479.8 904.8,479.9 905.5,479.4 906.2,480.2 907.0,480.6 907.7,480.9 908.4,481.4 909.1,481.6 909.9,481.9 910.6,481.6 911.3,482.5 912.0,483.1 912.7,482.4 913.5,483.0 914.2,483.4 914.9,483.5 915.6,483.7 916.4,483.8 917.1,484.6 917.8,484.6 918.5,485.1 919.3,484.7 920.0,485.3 920.7,485.6 921.4,485.2 922.1,485.1 922.9,485.6 923.6,485.6 924.3,485.3 925.0,484.7 925.8,484.5 926.5,484.9 927.2,484.5 927.9,485.2 928.6,484.8 929.4,485.4 930.1,484.9 930.8,485.6 931.5,485.6 932.3,485.4 933.0,485.2 933.7,485.3 934.4,485.3 935.1,484.9 935.9,484.5 936.6,484.7 937.3,485.4 938.0,485.4 938.8,484.7 939.5,485.3 940.2,485.5 940.9,485.8 941.6,485.0 942.4,485.2 943.1,484.3 943.8,484.5 944.5,484.1 945.3,483.6 946.0,484.2 946.7,483.4 947.4,483.4 948.2,483.7 948.9,483.0 949.6,482.4 950.3,482.9 951.0,482.4 951.8,482.5 952.5,481.5 953.2,481.2 953.9,480.8 954.7,481.1 955.4,480.4 956.1,481.2 956.8,480.3 957.5,480.7 958.3,479.9 959.0,479.7 959.7,480.3 960.4,479.8 961.2,479.4 961.9,479.9 962.6,479.7 963.3,479.0 964.0,479.9 964.8,479.3 965.5,478.7 966.2,478.7 966.9,479.0 967.7,479.4 968.4,478.6 969.1,478.5 969.8,477.9 970.5,478.1 971.3,478.6 972.0,478.8 972.7,479.0 973.4,478.9 974.2,479.0 974.9,478.7 975.6,478.0 976.3,477.2 977.1,477.2 977.8,476.7 978.5,475.9 979.2,475.8 979.9,476.2 980.7,475.2 981.4,475.2 982.1,474.7 982.8,474.5 983.6,473.7 984.3,474.2 985.0,473.4 985.7,473.3 986.4,472.8 987.2,471.8 987.9,471.8 988.6,471.2 989.3,470.5 990.1,470.0 990.8,469.7 991.5,469.4 992.2,469.9 992.9,469.9 993.7,470.4 994.4,470.6 995.1,470.7 995.8,469.6 996.6,469.1 997.3,468.5 998.0,468.5 998.7,468.4 999.4,468.6 1000.2,468.4 1000.9,467.6 1001.6,467.3 1002.3,467.1 1003.1,466.3 1003.8,465.7 1004.5,465.8 1005.2,465.3 1006.0,465.9 1006.7,465.4 1007.4,464.9 1008.1,464.6 1008.8,464.5 1009.6,464.3 1010.3,464.5 1011.0,464.6 1011.7,464.3 1012.5,464.5 1013.2,464.0 1013.9,464.6 1014.6,465.0 1015.3,464.9 1016.1,464.3 1016.8,464.0 1017.5,463.9 1018.2,463.1 1019.0,463.0 1019.7,463.1 1020.4,462.6 1021.1,462.1 1021.8,462.8 1022.6,462.5 1023.3,462.5 1024.0,463.0 1024.7,462.9 1025.5,462.3 1026.2,462.8 1026.9,462.2 1027.6,461.4 1028.3,461.7 1029.1,461.1 1029.8,460.9 1030.5,461.5 1031.2,461.6 1032.0,460.7 1032.7,460.8 1033.4,460.7 1034.1,460.7 1034.9,460.3 1035.6,460.5 1036.3,459.9 1037.0,459.8 1037.7,459.8 1038.5,460.5 1039.2,459.7 1039.9,460.1 1040.6,459.6 1041.4,459.7 1042.1,459.4 1042.8,459.3 1043.5,459.6 1044.2,459.2 1045.0,458.5 1045.7,458.0 1046.4,457.5 1047.1,458.2 1047.9,458.1 1048.6,458.4 1049.3,458.1 1050.0,456.8 1050.7,456.8 1051.5,456.8 1052.2,456.5 1052.9,455.9 1053.6,455.3 1054.4,454.9 1055.1,455.0 1055.8,454.2 1056.5,454.0 1057.2,453.7 1058.0,454.1 1058.7,454.1 1059.4,454.2 1060.1,454.1 1060.9,453.3 1061.6,452.6 1062.3,452.6 1063.0,452.2 1063.8,452.2 1064.5,452.5 1065.2,453.0 1065.9,452.8 1066.6,453.0 1067.4,452.1 1068.1,451.9 1068.8,452.7 1069.5,451.9 1070.3,451.8 1071.0,451.3 1071.7,450.9 1072.4,451.8 1073.1,452.5 1073.9,452.4 1074.6,451.6 1075.3,451.3 1076.0,451.0 1076.8,451.4 1077.5,451.7 1078.2,451.4 1078.9,451.4 1079.6,450.7 1080.4,450.9 1081.1,451.5 1081.8,451.6 1082.5,450.6 1083.3,450.6 1084.0,450.7 1084.7,450.1 1085.4,450.6 1086.1,450.2 1086.9,450.2 1087.6,449.7 1088.3,450.2 1089.0,450.1 1089.8,449.7 1090.5,448.7 1091.2,448.5 1091.9,447.7 1092.7,448.0 1093.4,448.4 1094.1,447.7 1094.8,447.6 1095.5,447.4 1096.3,447.2 1097.0,447.4 1097.7,447.7 1098.4,447.6 1099.2,447.1 1099.9,447.4 1100.6,446.6 1101.3,446.7 1102.0,446.5 1102.8,446.5 1103.5,446.5 1104.2,445.6 1104.9,445.6 1105.7,445.2 1106.4,445.2 1107.1,445.6 1107.8,445.3 1108.5,444.2 1109.3,444.1 1110.0,444.3 1110.7,444.5 1111.4,444.3 1112.2,444.3 1112.9,443.2 1113.6,443.7 1114.3,443.6 1115.0,443.3 1115.8,443.5 1116.5,443.5 1117.2,442.3 1117.9,442.5 1118.7,442.5 1119.4,441.6 1120.1,441.7 1120.8,441.5 1121.6,440.8 1122.3,441.1 1123.0,440.2 1123.7,440.3 1124.4,440.0 1125.2,439.5 1125.9,439.5 1126.6,439.2 1127.3,438.6 1128.1,439.2 1128.8,438.2 1129.5,437.3 1130.2,437.4 1130.9,437.8 1131.7,437.6 1132.4,437.6 1133.1,437.0 1133.8,436.8 1134.6,436.1 1135.3,435.5 1136.0,435.3 1136.7,434.4 1137.4,433.8 1138.2,434.3 1138.9,433.7 1139.6,434.0 1140.3,434.1 1141.1,433.6 1141.8,433.6 1142.5,433.6 1143.2,433.7 1143.9,432.6 1144.7,431.9 1145.4,431.8 1146.1,431.7 1146.8,431.3 1147.6,430.7 1148.3,431.0 1149.0,431.6 1149.7,431.1 1150.5,431.0 1151.2,430.6 1151.9,430.4 1152.6,430.8 1153.3,430.2 1154.1,430.2 1154.8,429.9 1155.5,429.8 1156.2,430.1 1157.0,429.0 1157.7,429.4 1158.4,428.7 1159.1,428.8 1159.8,428.9 1160.6,428.6 1161.3,428.0 1162.0,428.2 1162.7,427.1 1163.5,427.1 1164.2,426.6 1164.9,426.4 1165.6,426.5 1166.3,426.4 1167.1,426.0 1167.8,425.1 1168.5,424.3 1169.2,424.0 1170.0,423.3 1170.7,422.8 1171.4,423.3 1172.1,422.2 1172.8,422.4 1173.6,421.7 1174.3,421.1 1175.0,420.5 1175.7,419.6 1176.5,419.4 1177.2,418.7 1177.9,418.5 1178.6,417.9 1179.4,418.3 1180.1,418.3 1180.8,417.5 1181.5,417.1 1182.2,417.1 1183.0,416.1 1183.7,415.0 1184.4,414.3 1185.1,413.7 1185.9,413.8 1186.6,413.3 1187.3,412.7 1188.0,412.8 1188.7,411.9 1189.5,412.0 1190.2,411.6 1190.9,410.8 1191.6,410.8 1192.4,409.9 1193.1,409.9 1193.8,409.7 1194.5,408.8 1195.2,408.3 1196.0,408.1 1196.7,407.5 1197.4,406.9 1198.1,406.5 1198.9,406.0 1199.6,405.2 1200.3,404.8 1201.0,403.3 1201.7,402.5 1202.5,401.8 1203.2,400.6 1203.9,399.6 1204.6,398.4 1205.4,398.4 1206.1,397.2 1206.8,396.3 1207.5,395.9 1208.3,394.4 1209.0,394.2 1209.7,392.6 1210.4,391.1 1211.1,390.4 1211.9,389.6 1212.6,389.6 1213.3,389.2 1214.0,388.4 1214.8,387.2 1215.5,386.3 1216.2,384.9 1216.9,384.6 1217.6,383.5 1218.4,382.3 1219.1,381.7 1219.8,380.3 1220.5,379.3 1221.3,379.1 1222.0,377.5 1222.7,376.2 1223.4,375.1 1224.1,374.1 1224.9,373.3 1225.6,372.2 1226.3,371.3 1227.0,370.2 1227.8,369.2 1228.5,368.7 1229.2,367.7 1229.9,366.9 1230.6,366.4 1231.4,365.6 1232.1,364.8 1232.8,364.0 1233.5,363.2 1234.3,362.4 1235.0,361.6 1235.7,360.8 1236.4,360.0 1237.2,359.2 1237.9,358.5 1238.6,357.7 1239.3,356.9 1240.0,356.2 1240.8,355.4 1241.5,354.7 1242.2,354.0 1242.9,353.3 1243.7,352.5 1244.4,351.8 1245.1,351.1 1245.8,350.4 1246.5,349.7 1247.3,349.0 1248.0,348.3 1248.7,347.7 1249.4,347.0 1250.2,346.3 1250.9,345.7 1251.6,345.0 1252.3,344.3 1253.0,343.7 1253.8,343.0 1254.5,342.4 1255.2,341.8 1255.9,341.1 1256.7,340.5 1257.4,339.9 1258.1,339.3 1258.8,338.7 1259.5,338.0 1260.3,337.4 1261.0,336.8 1261.7,336.2 1262.4,335.7 1263.2,335.1 1263.9,334.5 1264.6,333.9 1265.3,333.3 1266.1,332.8 1266.8,332.2 1267.5,331.6 1268.2,331.1 1268.9,330.5 1269.7,330.0 1270.4,329.4 1271.1,328.9 1271.8,328.3 1272.6,327.8 1273.3,327.3 1274.0,326.7 1274.7,326.2 1275.4,325.7 1276.2,325.2 1276.9,324.6 1277.6,324.1 1278.3,323.6 1279.1,323.1 1279.8,322.6 1280.5,322.1 1281.2,321.6 1281.9,321.1 1282.7,320.6 1283.4,320.1 1284.1,319.7 1284.8,319.2 1285.6,318.7 1286.3,318.2 1287.0,317.8 1287.7,317.3 1288.4,316.9 1289.2,316.4 1289.9,316.0 1290.6,315.5 1291.3,315.1 1292.1,314.7 1292.8,314.3 1293.5,313.9 1294.2,313.4 1295.0,313.0 1295.7,312.6 1296.4,312.2 1297.1,311.8 1297.8,311.4 1298.6,311.0 1299.3,310.6 1300.0,310.2 1300.7,309.8 1301.5,309.3 1302.2,308.9 1302.9,308.5 1303.6,308.1 1304.3,307.6 1305.1,307.2 1305.8,306.8 1306.5,306.3 1307.2,305.9 1308.0,305.4 1308.7,304.9 1309.4,304.4 1310.1,303.9 1310.8,303.4 1311.6,302.9 1312.3,302.3 1313.0,301.8 1313.7,301.2 1314.5,300.6 1315.2,300.1 1315.9,299.5 1316.6,298.9 1317.3,298.4 1318.1,297.9 1318.8,297.4 1319.5,296.9 1320.2,296.5 1321.0,296.0 1321.7,295.6 1322.4,295.2 1323.1,294.7 1323.9,294.3 1324.6,293.9 1325.3,293.5 1326.0,293.1 1326.7,292.7 1327.5,292.3 1328.2,292.0 1328.9,291.6 1329.6,291.2 1330.4,290.8 1331.1,290.5 1331.8,290.1 1332.5,289.8 1333.2,289.4 1334.0,289.1 1334.7,288.7 1335.4,288.4 1336.1,288.0 1336.9,287.7 1337.6,287.3 1338.3,287.0 1339.0,286.7 1339.7,286.3 1340.5,286.0 1341.2,285.7 1341.9,285.3 1342.6,285.0 1343.4,284.7 1344.1,284.3 1344.8,284.0 1345.5,283.7 1346.2,283.3 1347.0,283.0 1347.7,282.7 1348.4,282.3 1349.1,282.0 1349.9,281.7 1350.6,281.3 1351.3,281.0 1352.0,280.7 1352.8,280.3 1353.5,280.0 1354.2,279.7 1354.9,279.4 1355.6,279.0 1356.4,278.7 1357.1,278.4 1357.8,278.1 1358.5,277.7 1359.3,277.4 1360.0,277.1 1360.7,276.8 1361.4,276.5 1362.1,276.1 1362.9,275.8 1363.6,275.5 1364.3,275.2 1365.0,274.9 1365.8,274.6 1366.5,274.3 1367.2,274.0 1367.9,273.7 1368.6,273.4 1369.4,273.1 1370.1,272.8 1370.8,272.5 1371.5,272.2 1372.3,271.9 1373.0,271.6 1373.7,271.3 1374.4,271.0 1375.1,270.8 1375.9,270.5 1376.6,270.2 1377.3,269.9 1378.0,269.7 1378.8,269.4 1379.5,269.1 1380.2,268.9 1380.9,268.6 1381.7,268.3 1382.4,268.1 1383.1,267.8 1383.8,267.6 1384.5,267.3 1385.3,267.1 1386.0,266.8 1386.7,266.6 1387.4,266.3 1388.2,266.1 1388.9,265.8 1389.6,265.6 1390.3,265.3 1391.0,265.1 1391.8,264.9 1392.5,264.6 1393.2,264.4 1393.9,264.1 1394.7,263.9 1395.4,263.7 1396.1,263.4 1396.8,263.2 1397.5,263.0 1398.3,262.8 1399.0,262.5 1399.7,262.3 1400.4,262.1 1401.2,261.9 1401.9,261.7 1402.6,261.4 1403.3,261.2 1404.0,261.0 1404.8,260.8 1405.5,260.6 1406.2,260.4 1406.9,260.2 1407.7,259.9 1408.4,259.7 1409.1,259.5 1409.8,259.3 1410.6,259.1 1411.3,258.9 1412.0,258.7 1412.7,258.5 1413.4,258.3 1414.2,258.1 1414.9,257.9 1415.6,257.7 1416.3,257.5 1417.1,257.4 1417.8,257.2 1418.5,257.0 1419.2,256.8 1419.9,256.6 1420.7,256.4 1421.4,256.3 1422.1,256.1 1422.8,255.9 1423.6,255.8 1424.3,255.6 1425.0,255.4 1425.7,255.3 1426.4,255.1 1427.2,254.9 1427.9,254.8 1428.6,254.6 1429.3,254.4 1430.1,254.3 1430.8,254.1 1431.5,254.0 1432.2,253.8 1432.9,253.6 1433.7,253.5 1434.4,253.3 1435.1,253.1 1435.8,253.0 1436.6,252.8 1437.3,252.6 1438.0,252.5 1438.7,252.3 1439.5,252.1 1440.2,252.0 1440.9,251.8 1441.6,251.6 1442.3,251.4 1443.1,251.3 1443.8,251.1 1444.5,250.9 1445.2,250.7 1446.0,250.5 1446.7,250.4 1447.4,250.2 1448.1,250.0 1448.8,249.8 1449.6,249.6 1450.3,249.4 1451.0,249.3 1451.7,249.1 1452.5,248.9 1453.2,248.7 1453.9,248.5 1454.6,248.3 1455.3,248.2 1456.1,248.0 1456.8,247.8 1457.5,247.6 1458.2,247.4 1459.0,247.2 1459.7,247.1 1460.4,246.9 1461.1,246.7 1461.8,246.5 1462.6,246.3 1463.3,246.2 1464.0,246.0 1464.7,245.8 1465.5,245.6 1466.2,245.4 1466.9,245.3 1467.6,245.1 1468.4,244.9 1469.1,244.7 1469.8,244.5 1470.5,244.4 1471.2,244.2 1472.0,244.0 1472.7,243.9 1473.4,243.7 1474.1,243.5 1474.9,243.4 1475.6,243.2 1476.3,243.0 1477.0,242.8 1477.7,242.7 1478.5,242.5 1479.2,242.4 1479.9,242.2 1480.6,242.0 1481.4,241.9 1482.1,241.7 1482.8,241.5 1483.5,241.4 1484.2,241.2 1485.0,241.0 1485.7,240.9 1486.4,240.7 1487.1,240.5 1487.9,240.4 1488.6,240.2 1489.3,240.1 1490.0,239.9 1490.7,239.7 1491.5,239.6 1492.2,239.4 1492.9,239.2 1493.6,239.0 1494.4,238.9 1495.1,238.7 1495.8,238.5 1496.5,238.4 1497.3,238.2 1498.0,238.0 1498.7,237.8 1499.4,237.6 1500.1,237.5 1500.9,237.3 1501.6,237.1 1502.3,236.9 1503.0,236.7 1503.8,236.5 1504.5,236.4 1505.2,236.2 1505.9,236.0 1506.6,235.8 1507.4,235.6 1508.1,235.4 1508.8,235.2 1509.5,235.0 1510.3,234.8 1511.0,234.6 1511.7,234.5 1512.4,234.3 1513.1,234.1 1513.9,233.9 1514.6,233.7 1515.3,233.5 1516.0,233.3 1516.8,233.1 1517.5,232.9 1518.2,232.7 1518.9,232.5 1519.6,232.3 1520.4,232.1 1521.1,231.9 1521.8,231.7 1522.0,231.6"/>
<polyline stroke="#c076e2" marker-start="url(#mp)" marker-mid="url(#mp)" marker-end="url(#mp)" points="366.0,326.6 366.3,326.6 367.1,326.6 367.8,326.7 368.5,326.7 369.2,326.8 369.9,326.8 370.7,326.9 371.4,326.9 372.1,327.0 372.8,327.1 373.6,327.2 374.3,327.2 375.0,327.3 375.7,327.4 376.4,327.5 377.2,327.6 377.9,327.7 378.6,327.9 379.3,328.0 380.1,328.1 380.8,328.2 381.5,328.4 382.2,328.5 382.9,328.7 383.7,328.8 384.4,329.0 385.1,329.2 385.8,329.4 386.6,329.5 387.3,329.7 388.0,329.9 388.7,330.1 389.4,330.3 390.2,330.5 390.9,330.7 391.6,330.9 392.3,331.1 393.1,331.3 393.8,331.5 394.5,331.8 395.2,332.0 396.0,332.2 396.7,332.5 397.4,332.7 398.1,332.9 398.8,333.2 399.6,333.4 400.3,333.7 401.0,333.9 401.7,334.2 402.5,334.4 403.2,334.7 403.9,334.9 404.6,335.2 405.3,335.5 406.1,335.7 406.8,336.0 407.5,336.3 408.2,336.6 409.0,336.9 409.7,337.3 410.4,337.6 411.1,338.0 411.8,338.3 412.6,338.7 413.3,339.1 414.0,339.5 414.7,339.9 415.5,340.3 416.2,340.8 416.9,341.2 417.6,341.6 418.3,342.1 419.1,342.5 419.8,343.0 420.5,343.4 421.2,343.9 422.0,344.4 422.7,344.8 423.4,345.3 424.1,345.7 424.9,346.2 425.6,346.6 426.3,347.1 427.0,347.5 427.7,348.0 428.5,348.5 429.2,348.9 429.9,349.4 430.6,349.9 431.4,350.4 432.1,350.9 432.8,351.4 433.5,351.9 434.2,352.4 435.0,352.9 435.7,353.4 436.4,353.9 437.1,354.4 437.9,354.9 438.6,355.4 439.3,355.9 440.0,356.5 440.7,357.0 441.5,357.5 442.2,358.0 442.9,358.6 443.6,359.1 444.4,359.6 445.1,360.1 445.8,360.7 446.5,361.2 447.2,361.7 448.0,362.3 448.7,362.8 449.4,363.3 450.1,363.9 450.9,364.4 451.6,365.0 452.3,365.5 453.0,366.1 453.8,366.6 454.5,367.2 455.2,367.7 455.9,368.3 456.6,368.9 457.4,369.4 458.1,370.0 458.8,370.5 459.5,371.1 460.3,371.7 461.0,372.2 461.7,372.8 462.4,373.3 463.1,373.9 463.9,374.5 464.6,375.0 465.3,375.6 466.0,376.1 466.8,376.7 467.5,377.2 468.2,377.8 468.9,378.3 469.6,378.9 470.4,379.4 471.1,380.0 471.8,380.5 472.5,381.1 473.3,381.6 474.0,382.2 474.7,382.7 475.4,383.3 476.1,383.9 476.9,384.4 477.6,385.0 478.3,385.5 479.0,386.1 479.8,386.6 480.5,387.1 481.2,387.7 481.9,388.2 482.7,388.8 483.4,389.3 484.1,389.9 484.8,390.4 485.5,391.0 486.3,391.5 487.0,392.0 487.7,392.6 488.4,393.1 489.2,393.6 489.9,394.2 490.6,394.7 491.3,395.3 492.0,395.8 492.8,396.3 493.5,396.9 494.2,397.4 494.9,397.9 495.7,398.4 496.4,399.0 497.1,399.5 497.8,400.0 498.5,400.6 499.3,401.1 500.0,401.6 500.7,402.1 501.4,402.7 502.2,403.2 502.9,403.7 503.6,404.3 504.3,404.8 505.0,405.3 505.8,405.8 506.5,406.4 507.2,406.9 507.9,407.4 508.7,407.9 509.4,408.5 510.1,409.0 510.8,409.5 511.6,410.0 512.3,410.6 513.0,411.1 513.7,411.6 514.4,412.1 515.2,412.6 515.9,413.2 516.6,413.7 517.3,414.2 518.1,414.7 518.8,415.2 519.5,415.8 520.2,416.3 520.9,416.8 521.7,417.3 522.4,417.8 523.1,418.3 523.8,418.9 524.6,419.4 525.3,419.9 526.0,420.4 526.7,420.9 527.4,421.4 528.2,421.9 528.9,422.4 529.6,423.0 530.3,423.5 531.1,424.0 531.8,424.5 532.5,425.0 533.2,425.5 533.9,426.0 534.7,426.5 535.4,427.0 536.1,427.5 536.8,428.0 537.6,428.5 538.3,429.0 539.0,429.6 539.7,430.1 540.5,430.6 541.2,431.1 541.9,431.6 542.6,432.1 543.3,432.6 544.1,433.1 544.8,433.6 545.5,434.1 546.2,434.6 547.0,435.1 547.7,435.6 548.4,436.1 549.1,436.5 549.8,437.0 550.6,437.5 551.3,438.0 552.0,438.5 552.7,439.0 553.5,439.5 554.2,440.0 554.9,440.5 555.6,441.0 556.3,441.5 557.1,442.0 557.8,442.5 558.5,442.9 559.2,443.4 560.0,443.9 560.7,444.4 561.4,444.9 562.1,445.4 562.8,445.9 563.6,446.4 564.3,446.8 565.0,447.3 565.7,447.8 566.5,448.3 567.2,448.8 567.9,449.3 568.6,449.8 569.4,450.3 570.1,450.7 570.8,451.2 571.5,451.7 572.2,452.2 573.0,452.7 573.7,453.2 574.4,453.6 575.1,454.1 575.9,454.6 576.6,455.1 577.3,455.6 578.0,456.1 578.7,456.5 579.5,457.0 580.2,457.5 580.9,458.0 581.6,458.5 582.4,459.0 583.1,459.4 583.8,459.9 584.5,460.4 585.2,460.9 586.0,461.4 586.7,461.9 587.4,462.4 588.1,462.8 588.9,463.3 589.6,463.8 590.3,464.3 591.0,464.8 591.7,465.3 592.5,465.8 593.2,466.3 593.9,466.8 594.6,467.2 595.4,467.7 596.1,468.2 596.8,468.7 597.5,469.2 598.3,469.7 599.0,470.2 599.7,470.7 600.4,471.2 601.1,471.7 601.9,472.2 602.6,472.7 603.3,473.1 604.0,473.6 604.8,474.1 605.5,474.6 606.2,475.1 606.9,475.6 607.6,476.1 608.4,476.6 609.1,477.1 609.8,477.6 610.5,478.1 611.3,478.6 612.0,479.1 612.7,479.6 613.4,480.2 614.1,480.7 614.9,481.2 615.6,481.7 616.3,482.2 617.0,482.7 617.8,483.2 618.5,483.7 619.2,484.2 619.9,484.7 620.6,485.2 621.4,485.7 622.1,486.2 622.8,486.7 623.5,487.3 624.3,487.8 625.0,488.3 625.7,488.8 626.4,489.3 627.2,489.8 627.9,490.3 628.6,490.8 629.3,491.4 630.0,491.9 630.8,492.4 631.5,492.9 632.2,493.4 632.9,493.9 633.7,494.4 634.4,495.0 635.1,495.5 635.8,496.0 636.5,496.5 637.3,497.0 638.0,497.6 638.7,498.1 639.4,498.6 640.2,499.1 640.9,499.6 641.6,500.2 642.3,500.7 643.0,501.2 643.8,501.8 644.5,502.3 645.2,502.8 645.9,503.4 646.7,503.9 647.4,504.4 648.1,505.0 648.8,505.5 649.5,506.0 650.3,506.6 651.0,507.1 651.7,507.6 652.4,508.2 653.2,508.7 653.9,509.3 654.6,509.8 655.3,510.4 656.1,510.9 656.8,511.5 657.5,512.0 658.2,512.6 658.9,513.1 659.7,513.7 660.4,514.2 661.1,514.8 661.8,515.4 662.6,515.9 663.3,516.5 664.0,517.1 664.7,517.6 665.4,518.2 666.2,518.8 666.9,519.4 667.6,520.0 668.3,520.5 669.1,521.1 669.8,521.7 670.5,522.3 671.2,522.9 671.9,523.5 672.7,524.1 673.4,524.7 674.1,525.3 674.8,525.9 675.6,526.5 676.3,527.1 677.0,527.7 677.7,528.4 678.4,529.0 679.2,529.6 679.9,530.2 680.6,530.9 681.3,531.5 682.1,532.1 682.8,532.8 683.5,533.4 684.2,534.1 685.0,534.7 685.7,535.4 686.4,536.0 687.1,536.7 687.8,537.3 688.6,538.0 689.3,538.7 690.0,539.4 690.7,540.1 691.5,540.8 692.2,541.5 692.9,542.2 693.6,542.9 694.3,543.7 695.1,544.4 695.8,545.1 696.5,545.9 697.2,546.7 698.0,547.4 698.7,548.2 699.4,549.0 700.1,549.8 700.8,550.6 701.6,551.5 702.3,552.3 703.0,553.2 703.7,554.0 704.5,554.9 705.2,555.8 705.9,556.7 706.6,557.7 707.3,558.6 708.1,559.6 708.8,560.6 709.5,561.6 710.2,562.7 711.0,563.7 711.7,564.8 712.4,565.9 713.1,567.1 713.9,568.2 714.6,569.4 715.3,570.7 716.0,571.9 716.7,573.2 717.5,574.6 718.2,576.0 718.9,577.4 719.6,578.9 720.4,580.5 721.1,582.2 721.8,583.9 722.5,585.6 723.2,587.5 724.0,589.4 724.7,591.4 725.4,593.5 726.1,595.8 726.9,598.1 727.6,600.6 728.3,603.1 729.0,605.8 729.7,608.8 730.5,612.1 731.2,615.1 731.9,617.8 732.6,620.5 733.4,623.0 734.1,625.6 734.8,628.1 735.5,630.6 736.2,633.2 737.0,635.9 737.7,638.8 738.4,641.7 739.1,644.8 739.9,648.1 740.6,651.7 741.3,655.5 742.0,659.6 742.8,664.1 743.5,669.1 744.2,674.5 744.9,680.7 745.6,687.6 746.4,695.7 747.1,705.4 747.8,717.3 748.5,733.0 749.3,755.7 750.0,798.0 750.7,857.7 751.4,773.8 752.1,743.7 752.9,725.0 753.6,711.4 754.3,700.6 755.0,691.8 755.8,684.2 756.5,677.7 757.2,671.9 757.9,666.7 758.6,661.9 759.4,657.6 760.1,653.6 760.8,650.0 761.5,646.5 762.3,643.3 763.0,640.3 763.7,637.4 764.4,634.5 765.1,631.5 765.9,628.6 766.6,625.7 767.3,623.0 768.0,620.4 768.8,618.0 769.5,615.8 770.2,613.9 770.9,612.3 771.7,610.8 772.4,609.5 773.1,608.2 773.8,607.0 774.5,605.8 775.3,604.8 776.0,603.8 776.7,602.8 777.4,601.9 778.2,601.1 778.9,600.3 779.6,599.5 780.3,598.7 781.0,598.0 781.8,597.3 782.5,596.7 783.2,596.1 783.9,595.5 784.7,594.9 785.4,594.3 786.1,593.8 786.8,593.2 787.5,592.7 788.3,592.2 789.0,591.6 789.7,591.1 790.4,590.6 791.2,590.1 791.9,589.5 792.6,589.0 793.3,588.4 794.0,587.9 794.8,587.4 795.5,586.9 796.2,586.3 796.9,585.8 797.7,585.3 798.4,584.8 799.1,584.3 799.8,583.8 800.6,583.3 801.3,582.8 802.0,582.3 802.7,581.7 803.4,581.2 804.2,580.7 804.9,580.2 805.6,579.6 806.3,579.1 807.1,578.5 807.8,578.0 808.5,577.5 809.2,576.9 809.9,576.4 810.7,575.8 811.4,575.3 812.1,574.8 812.8,574.2 813.6,573.6 814.3,573.1 815.0,572.5 815.7,571.8 816.4,571.2 817.2,570.6 817.9,569.9 818.6,569.2 819.3,568.5 820.1,567.7 820.8,566.9 821.5,566.1 822.2,565.2 822.9,564.3 823.7,563.4 824.4,562.4 825.1,561.3 825.8,560.2 826.6,559.1 827.3,557.9 828.0,556.6 828.7,555.2 829.5,553.8 830.2,552.3 830.9,550.8 831.6,549.2 832.3,547.6 833.1,545.9 833.8,544.2 834.5,542.5 835.2,540.7 836.0,539.0 836.7,537.2 837.4,535.3 838.1,533.3 838.8,531.3 839.6,529.2 840.3,527.1 841.0,524.9 841.7,522.7 842.5,520.4 843.2,518.1 843.9,515.8 844.6,513.5 845.3,511.2 846.1,508.9 846.8,506.6 847.5,504.2 848.2,501.9 849.0,499.4 849.7,496.9 850.4,494.4 851.1,491.8 851.8,489.3 852.6,486.7 853.3,484.2 854.0,481.7 854.7,479.3 855.5,477.0 856.2,474.7 856.9,472.6 857.6,470.5 858.4,468.5 859.1,466.6 859.8,464.7 860.5,462.8 861.2,460.9 862.0,459.1 862.7,457.3 863.4,455.5 864.1,453.9 864.9,452.3 865.6,450.8 866.3,449.3 867.0,447.9 867.7,446.7 868.5,445.5 869.2,444.3 869.9,443.2 870.6,442.1 871.4,441.0 872.1,440.0 872.8,439.1 873.5,438.2 874.2,437.4 875.0,436.8 875.7,436.2 876.4,435.7 877.1,435.3 877.9,434.8 878.6,434.4 879.3,434.0 880.0,433.7 880.8,433.3 881.5,433.1 882.2,432.9 882.9,432.7 883.6,432.6 884.4,432.6 885.1,432.7 885.8,432.9 886.5,433.1 887.3,433.4 888.0,433.8 888.7,434.2 889.4,434.7 890.1,435.2 890.9,435.7 891.6,436.2 892.3,436.7 893.0,437.4 893.8,438.2 894.5,439.1 895.2,440.1 895.9,441.1 896.6,442.2 897.4,443.3 898.1,444.3 898.8,445.4 899.5,446.4 900.3,447.3 901.0,448.2 901.7,449.2 902.4,450.1 903.1,451.1 903.9,452.0 904.6,453.0 905.3,454.0 906.0,454.9 906.8,455.9 907.5,456.8 908.2,457.8 908.9,458.7 909.6,459.6 910.4,460.5 911.1,461.4 911.8,462.3 912.5,463.1 913.3,463.9 914.0,464.7 914.7,465.4 915.4,466.1 916.2,466.8 916.9,467.4 917.6,468.0 918.3,468.6 919.0,469.1 919.8,469.6 920.5,470.2 921.2,470.7 921.9,471.2 922.7,471.7 923.4,472.2 924.1,472.7 924.8,473.1 925.5,473.6 926.3,474.1 927.0,474.5 927.7,474.9 928.4,475.3 929.2,475.8 929.9,476.1 930.6,476.2 931.3,476.7 932.0,477.0 932.8,477.6 933.5,478.1 934.2,477.8 934.9,477.6 935.7,478.7 936.4,478.7 937.1,478.8 937.8,480.0 938.5,480.1 939.3,480.7 940.0,480.7 940.7,481.0 941.4,480.5 942.2,481.0 942.9,481.7 943.6,481.7 944.3,482.1 945.1,482.3 945.8,481.6 946.5,482.3 947.2,482.5 947.9,482.3 948.7,481.8 949.4,482.8 950.1,482.8 950.8,483.3 951.6,483.8 952.3,484.0 953.0,484.4 953.7,484.0 954.4,484.3 955.2,484.1 955.9,484.7 956.6,485.0 957.3,484.2 958.1,483.8 958.8,483.7 959.5,484.8 960.2,484.7 960.9,485.0 961.7,484.8 962.4,485.0 963.1,485.0 963.8,485.0 964.6,485.4 965.3,485.7 966.0,486.4 966.7,486.5 967.4,486.9 968.2,487.1 968.9,487.5 969.6,487.3 970.3,486.5 971.1,487.0 971.8,487.4 972.5,487.6 973.2,487.3 974.0,487.3 974.7,486.6 975.4,487.0 976.1,486.8 976.8,486.3 977.6,485.6 978.3,486.3 979.0,486.8 979.7,485.8 980.5,486.2 981.2,485.8 981.9,485.1 982.6,484.8 983.3,485.2 984.1,485.6 984.8,484.5 985.5,484.6 986.2,483.8 987.0,484.2 987.7,483.8 988.4,484.2 989.1,484.5 989.8,484.0 990.6,484.3 991.3,483.4 992.0,482.5 992.7,482.6 993.5,481.7 994.2,481.4 994.9,481.4 995.6,481.5 996.3,480.9 997.1,480.3 997.8,480.9 998.5,480.4 999.2,480.9 1000.0,481.0 1000.7,480.2 1001.4,479.7 1002.1,479.4 1002.9,479.3 1003.6,479.0 1004.3,478.6 1005.0,478.3 1005.7,478.5 1006.5,477.8 1007.2,477.2 1007.9,477.1 1008.6,476.2 1009.4,475.6 1010.1,476.0 1010.8,475.4 1011.5,474.9 1012.2,473.7 1013.0,473.3 1013.7,473.1 1014.4,472.0 1015.1,471.9 1015.9,471.7 1016.6,470.5 1017.3,470.4 1018.0,469.8 1018.7,469.6 1019.5,468.8 1020.2,468.5 1020.9,468.2 1021.6,466.8 1022.4,465.8 1023.1,465.8 1023.8,466.1 1024.5,465.0 1025.2,464.5 1026.0,464.2 1026.7,463.5 1027.4,462.9 1028.1,462.4 1028.9,462.0 1029.6,461.9 1030.3,461.2 1031.0,460.8 1031.8,461.0 1032.5,459.8 1033.2,459.8 1033.9,459.8 1034.6,459.1 1035.4,458.4 1036.1,458.7 1036.8,457.9 1037.5,457.2 1038.3,457.0 1039.0,457.1 1039.7,456.2 1040.4,455.9 1041.1,455.6 1041.9,455.9 1042.6,455.5 1043.3,455.7 1044.0,454.8 1044.8,454.3 1045.5,454.4 1046.2,454.7 1046.9,454.2 1047.6,453.4 1048.4,452.8 1049.1,452.9 1049.8,452.4 1050.5,452.8 1051.3,453.1 1052.0,452.2 1052.7,451.8 1053.4,452.2 1054.1,452.1 1054.9,452.2 1055.6,451.5 1056.3,450.8 1057.0,450.5 1057.8,450.9 1058.5,450.3 1059.2,450.0 1059.9,449.8 1060.7,449.6 1061.4,449.4 1062.1,449.9 1062.8,449.0 1063.5,448.2 1064.3,448.9 1065.0,449.1 1065.7,449.3 1066.4,448.6 1067.2,448.8 1067.9,448.8 1068.6,447.7 1069.3,447.6 1070.0,447.6 1070.8,447.3 1071.5,446.8 1072.2,446.1 1072.9,445.6 1073.7,445.0 1074.4,444.4 1075.1,444.6 1075.8,444.2 1076.5,444.5 1077.3,443.6 1078.0,444.1 1078.7,444.0 1079.4,444.1 1080.2,444.0 1080.9,443.8 1081.6,443.1 1082.3,441.7 1083.0,441.8 1083.8,440.8 1084.5,440.3 1085.2,440.3 1085.9,440.0 1086.7,439.5 1087.4,439.7 1088.1,439.2 1088.8,438.4 1089.6,437.6 1090.3,437.8 1091.0,437.2 1091.7,437.1 1092.4,436.3 1093.2,435.4 1093.9,435.2 1094.6,435.2 1095.3,434.2 1096.1,434.3 1096.8,434.4 1097.5,434.1 1098.2,433.7 1098.9,432.2 1099.7,432.0 1100.4,432.0 1101.1,430.7 1101.8,430.1 1102.6,429.5 1103.3,429.4 1104.0,428.9 1104.7,428.6 1105.4,428.6 1106.2,427.3 1106.9,426.5 1107.6,425.9 1108.3,425.4 1109.1,424.8 1109.8,425.5 1110.5,425.6 1111.2,424.4 1111.9,424.1 1112.7,423.4 1113.4,422.8 1114.1,422.3 1114.8,422.2 1115.6,421.8 1116.3,421.1 1117.0,420.2 1117.7,419.7 1118.5,418.9 1119.2,418.8 1119.9,418.7 1120.6,418.1 1121.3,417.0 1122.1,416.4 1122.8,416.1 1123.5,416.0 1124.2,416.0 1125.0,415.3 1125.7,415.3 1126.4,414.9 1127.1,414.3 1127.8,413.6 1128.6,413.3 1129.3,413.2 1130.0,412.7 1130.7,412.6 1131.5,412.2 1132.2,411.5 1132.9,411.4 1133.6,411.4 1134.3,410.5 1135.1,410.3 1135.8,410.1 1136.5,410.5 1137.2,410.7 1138.0,410.0 1138.7,410.2 1139.4,410.1 1140.1,409.2 1140.8,408.8 1141.6,408.1 1142.3,408.5 1143.0,408.5 1143.7,408.7 1144.5,408.6 1145.2,408.3 1145.9,408.1 1146.6,407.7 1147.4,406.8 1148.1,406.8 1148.8,405.9 1149.5,405.5 1150.2,406.1 1151.0,405.3 1151.7,404.9 1152.4,404.5 1153.1,405.3 1153.9,404.8 1154.6,404.1 1155.3,404.8 1156.0,404.2 1156.7,404.7 1157.5,404.7 1158.2,404.8 1158.9,405.0 1159.6,404.5 1160.4,404.4 1161.1,403.2 1161.8,403.4 1162.5,403.1 1163.2,403.1 1164.0,402.1 1164.7,402.4 1165.4,402.7 1166.1,401.5 1166.9,401.1 1167.6,401.1 1168.3,401.3 1169.0,400.6 1169.8,399.9 1170.5,399.5 1171.2,399.7 1171.9,399.9 1172.6,399.4 1173.4,398.9 1174.1,398.6 1174.8,398.2 1175.5,397.9 1176.3,397.2 1177.0,397.2 1177.7,397.8 1178.4,397.2 1179.1,397.3 1179.9,396.3 1180.6,396.4 1181.3,396.4 1182.0,396.2 1182.8,395.7 1183.5,395.3 1184.2,395.1 1184.9,395.2 1185.6,394.2 1186.4,393.3 1187.1,393.6 1187.8,393.9 1188.5,393.4 1189.3,392.8 1190.0,392.8 1190.7,391.9 1191.4,391.3 1192.1,390.8 1192.9,390.9 1193.6,390.4 1194.3,389.9 1195.0,390.1 1195.8,390.5 1196.5,389.7 1197.2,389.6 1197.9,389.1 1198.7,389.2 1199.4,388.8 1200.1,388.0 1200.8,387.3 1201.5,386.5 1202.3,386.6 1203.0,386.3 1203.7,385.8 1204.4,385.6 1205.2,385.3 1205.9,385.6 1206.6,384.8 1207.3,385.4 1208.0,384.9 1208.8,384.6 1209.5,384.1 1210.2,384.3 1210.9,384.2 1211.7,383.6 1212.4,383.1 1213.1,382.9 1213.8,382.9 1214.5,382.2 1215.3,382.0 1216.0,382.1 1216.7,381.4 1217.4,380.5 1218.2,379.8 1218.9,379.9 1219.6,379.8 1220.3,380.0 1221.0,379.9 1221.8,378.8 1222.5,377.9 1223.2,377.4 1223.9,376.8 1224.7,377.1 1225.4,377.3 1226.1,377.4 1226.8,376.4 1227.5,376.5 1228.3,375.6 1229.0,375.1 1229.7,375.1 1230.4,374.1 1231.2,373.3 1231.9,373.8 1232.6,373.1 1233.3,372.7 1234.1,372.6 1234.8,372.5 1235.5,371.4 1236.2,371.1 1236.9,370.8 1237.7,370.6 1238.4,370.0 1239.1,369.9 1239.8,370.3 1240.6,369.6 1241.3,369.2 1242.0,368.2 1242.7,367.7 1243.4,367.8 1244.2,366.9 1244.9,367.3 1245.6,367.4 1246.3,366.2 1247.1,366.4 1247.8,365.6 1248.5,365.6 1249.2,365.3 1249.9,364.4 1250.7,364.2 1251.4,363.9 1252.1,363.7 1252.8,362.7 1253.6,362.6 1254.3,362.6 1255.0,362.1 1255.7,361.4 1256.4,360.2 1257.2,359.9 1257.9,359.3 1258.6,359.2 1259.3,359.0 1260.1,358.5 1260.8,357.4 1261.5,357.3 1262.2,356.9 1263.0,355.9 1263.7,356.1 1264.4,355.6 1265.1,354.4 1265.8,354.6 1266.6,353.4 1267.3,352.7 1268.0,352.7 1268.7,352.2 1269.5,351.7 1270.2,351.3 1270.9,350.5 1271.6,349.7 1272.3,348.8 1273.1,347.9 1273.8,348.0 1274.5,347.9 1275.2,347.4 1276.0,347.1 1276.7,346.2 1277.4,345.3 1278.1,344.8 1278.8,344.9 1279.6,343.6 1280.3,343.3 1281.0,342.6 1281.7,342.7 1282.5,341.9 1283.2,341.3 1283.9,340.8 1284.6,340.6 1285.3,340.6 1286.1,339.8 1286.8,339.9 1287.5,338.7 1288.2,338.1 1289.0,337.3 1289.7,336.7 1290.4,337.1 1291.1,337.1 1291.9,336.1 1292.6,335.4 1293.3,335.2 1294.0,335.3 1294.7,335.3 1295.5,335.1 1296.2,334.6 1296.9,333.5 1297.6,333.0 1298.4,332.3 1299.1,332.2 1299.8,332.0 1300.5,331.8 1301.2,331.4 1302.0,331.0 1302.7,330.6 1303.4,330.3 1304.1,329.9 1304.9,329.5 1305.6,329.2 1306.3,328.8 1307.0,328.5 1307.7,328.1 1308.5,327.8 1309.2,327.4 1309.9,327.1 1310.6,326.7 1311.4,326.4 1312.1,326.1 1312.8,325.7 1313.5,325.4 1314.2,325.1 1315.0,324.8 1315.7,324.5 1316.4,324.2 1317.1,323.9 1317.9,323.5 1318.6,323.2 1319.3,322.9 1320.0,322.6 1320.8,322.3 1321.5,321.9 1322.2,321.6 1322.9,321.3 1323.6,321.0 1324.4,320.6 1325.1,320.3 1325.8,320.0 1326.5,319.6 1327.3,319.3 1328.0,319.0 1328.7,318.6 1329.4,318.3 1330.1,318.0 1330.9,317.6 1331.6,317.3 1332.3,317.0 1333.0,316.6 1333.8,316.3 1334.5,316.0 1335.2,315.6 1335.9,315.3 1336.6,315.0 1337.4,314.7 1338.1,314.3 1338.8,314.0 1339.5,313.7 1340.3,313.4 1341.0,313.1 1341.7,312.8 1342.4,312.4 1343.2,312.1 1343.9,311.8 1344.6,311.5 1345.3,311.2 1346.0,310.9 1346.8,310.7 1347.5,310.4 1348.2,310.1 1348.9,309.8 1349.7,309.5 1350.4,309.2 1351.1,308.9 1351.8,308.7 1352.5,308.4 1353.3,308.1 1354.0,307.8 1354.7,307.6 1355.4,307.3 1356.2,307.0 1356.9,306.8 1357.6,306.5 1358.3,306.2 1359.0,306.0 1359.8,305.7 1360.5,305.4 1361.2,305.2 1361.9,304.9 1362.7,304.7 1363.4,304.4 1364.1,304.1 1364.8,303.9 1365.5,303.6 1366.3,303.4 1367.0,303.1 1367.7,302.8 1368.4,302.6 1369.2,302.3 1369.9,302.1 1370.6,301.8 1371.3,301.6 1372.0,301.3 1372.8,301.0 1373.5,300.8 1374.2,300.5 1374.9,300.3 1375.7,300.0 1376.4,299.8 1377.1,299.5 1377.8,299.2 1378.6,299.0 1379.3,298.7 1380.0,298.4 1380.7,298.2 1381.4,297.9 1382.2,297.6 1382.9,297.4 1383.6,297.1 1384.3,296.8 1385.1,296.6 1385.8,296.3 1386.5,296.0 1387.2,295.7 1387.9,295.5 1388.7,295.2 1389.4,294.9 1390.1,294.6 1390.8,294.4 1391.6,294.1 1392.3,293.8 1393.0,293.5 1393.7,293.2 1394.4,293.0 1395.2,292.7 1395.9,292.4 1396.6,292.1 1397.3,291.8 1398.1,291.6 1398.8,291.3 1399.5,291.0 1400.2,290.7 1400.9,290.5 1401.7,290.2 1402.4,289.9 1403.1,289.7 1403.8,289.4 1404.6,289.1 1405.3,288.9 1406.0,288.6 1406.7,288.3 1407.5,288.1 1408.2,287.8 1408.9,287.6 1409.6,287.3 1410.3,287.0 1411.1,286.8 1411.8,286.5 1412.5,286.3 1413.2,286.1 1414.0,285.8 1414.7,285.6 1415.4,285.4 1416.1,285.1 1416.8,284.9 1417.6,284.7 1418.3,284.4 1419.0,284.2 1419.7,284.0 1420.5,283.8 1421.2,283.6 1421.9,283.4 1422.6,283.2 1423.3,283.0 1424.1,282.8 1424.8,282.6 1425.5,282.4 1426.2,282.2 1427.0,282.0 1427.7,281.8 1428.4,281.6 1429.1,281.4 1429.8,281.2 1430.6,281.0 1431.3,280.8 1432.0,280.6 1432.7,280.4 1433.5,280.2 1434.2,280.0 1434.9,279.8 1435.6,279.6 1436.4,279.4 1437.1,279.2 1437.8,279.0 1438.5,278.8 1439.2,278.6 1440.0,278.4 1440.7,278.2 1441.4,278.0 1442.1,277.8 1442.9,277.6 1443.6,277.4 1444.3,277.1 1445.0,276.9 1445.7,276.7 1446.5,276.5 1447.2,276.3 1447.9,276.0 1448.6,275.8 1449.4,275.6 1450.1,275.4 1450.8,275.2 1451.5,274.9 1452.2,274.7 1453.0,274.5 1453.7,274.3 1454.4,274.0 1455.1,273.8 1455.9,273.6 1456.6,273.4 1457.3,273.2 1458.0,272.9 1458.8,272.7 1459.5,272.5 1460.2,272.3 1460.9,272.1 1461.6,271.9 1462.4,271.6 1463.1,271.4 1463.8,271.2 1464.5,271.0 1465.3,270.8 1466.0,270.6 1466.7,270.4 1467.4,270.2 1468.1,270.0 1468.9,269.8 1469.6,269.6 1470.3,269.4 1471.0,269.2 1471.8,269.0 1472.5,268.9 1473.2,268.7 1473.9,268.5 1474.6,268.3 1475.4,268.1 1476.1,267.9 1476.8,267.8 1477.5,267.6 1478.3,267.4 1479.0,267.2 1479.7,267.0 1480.4,266.9 1481.1,266.7 1481.9,266.5 1482.6,266.3 1483.3,266.2 1484.0,266.0 1484.8,265.8 1485.5,265.7 1486.2,265.5 1486.9,265.3 1487.7,265.2 1488.4,265.0 1489.1,264.8 1489.8,264.7 1490.5,264.5 1491.3,264.3 1492.0,264.2 1492.7,264.0 1493.4,263.8 1494.2,263.7 1494.9,263.5 1495.6,263.3 1496.3,263.2 1497.0,263.0 1497.8,262.8 1498.5,262.7 1499.2,262.5 1499.9,262.3 1500.7,262.1 1501.4,262.0 1502.1,261.8 1502.8,261.6 1503.5,261.5 1504.3,261.3 1505.0,261.1 1505.7,261.0 1506.4,260.8 1507.2,260.6 1507.9,260.5 1508.6,260.3 1509.3,260.2 1510.0,260.0 1510.8,259.8 1511.5,259.7 1512.2,259.5 1512.9,259.3 1513.7,259.2 1514.4,259.0 1515.1,258.8 1515.8,258.7 1516.5,258.5 1517.3,258.4 1518.0,258.2 1518.7,258.0 1519.4,257.9 1520.2,257.7 1520.9,257.5 1521.6,257.4 1522.0,257.3"/>
</g>
<g stroke="#000" stroke-width="5.8" fill="none" stroke-linecap="butt">
<rect x="222.3" y="63.55" width="1444.7" height="1166.1"/>
<path d="M222.3 181.3h10.5M222.3 297.9h21.7M222.3 414.5h10.5M222.3 531.1h21.7M222.3 647.8h10.5M222.3 764.4h21.7M222.3 881.0h10.5M222.3 997.6h21.7M222.3 1114.2h10.5M366.0 1229.65v-22.3M510.6 1229.65v-10.6M655.2 1229.65v-22.3M799.8 1229.65v-10.6M944.4 1229.65v-22.3M1089.1 1229.65v-10.6M1233.7 1229.65v-22.3M1378.3 1229.65v-10.6M1522.9 1229.65v-22.3"/>
</g>
<g font-size="65" text-anchor="end">
<text x="195" y="81.2">0</text>
<text x="195" y="314.9">-2</text>
<text x="195" y="548.7">-4</text>
<text x="195" y="782.4">-6</text>
<text x="195" y="1016.2">-8</text>
<text x="195" y="1249.9">-10</text>
</g>
<g font-size="65" text-anchor="middle">
<text x="364.8" y="1303.8">-1.6</text>
<text x="654.0" y="1303.8">-1.2</text>
<text x="943.2" y="1303.8">-0.8</text>
<text x="1232.5" y="1303.8">-0.4</text>
<text x="1521.7" y="1303.8">0.0</text>
</g>
<text x="942" y="1413.2" font-size="66.2" text-anchor="middle">Potential (V)</text>
<text transform="translate(81 647) rotate(-90)" font-size="65.6" text-anchor="middle">log (i/A)</text>
<path d="M1140.3 763.1H1251.6" stroke="#4d4d4d" stroke-width="2.2" fill="none"/><rect x="1190.4" y="754.8" width="13.4" height="14.8" fill="#4d4d4d"/>
<path d="M1140.3 826.1H1251.6" stroke="#ff3a3a" stroke-width="2.2" fill="none"/><ellipse cx="1196.6" cy="826" rx="7.2" ry="7.9" fill="#ff3a3a"/>
<path d="M1140.3 887.9H1251.6" stroke="#0a6be0" stroke-width="2.2" fill="none"/><path d="M1197.5 877.3L1207.2 894.8H1187.8Z" fill="#0a6be0"/>
<path d="M1140.3 951.5H1251.6" stroke="#00ad68" stroke-width="2.2" fill="none"/><path d="M1187.7 944.9H1206.9L1197.3 962Z" fill="#00ad68"/>
<path d="M1140.3 1014.7H1251.6" stroke="#c076e2" stroke-width="2.2" fill="none"/><path d="M1196.9 1004.6L1206.3 1014.7L1196.9 1024.9L1187.5 1014.7Z" fill="#c076e2"/>
<g font-size="50" font-weight="bold">
<text transform="translate(1265.6 778.2) scale(0.983 1.03)">40Zn</text>
<text transform="translate(1265.6 841.2) scale(0.983 1.03)">40Zn-0.1rGO</text>
<text transform="translate(1265.6 903) scale(0.983 1.03)">40Zn-0.2rGO</text>
<text transform="translate(1265.6 966.6) scale(0.983 1.03)">40Zn-0.3rGO</text>
<text transform="translate(1265.6 1029.8) scale(0.983 1.03)">40Zn-0.4rGO</text>
</g>
</svg></body></html>
